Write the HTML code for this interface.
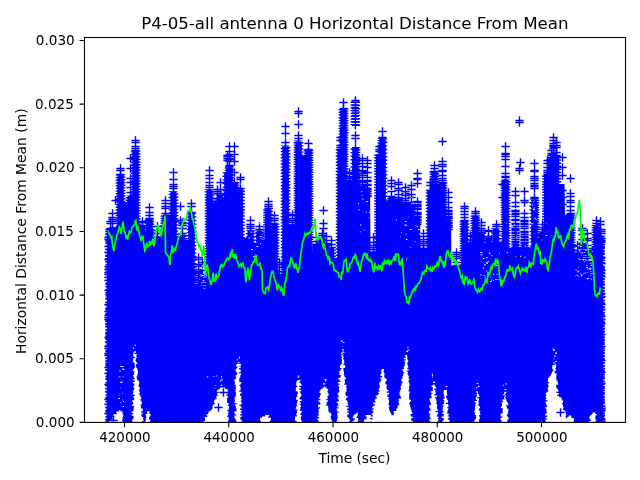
<!DOCTYPE html><html><head><meta charset="utf-8"><title>plot</title><style>html,body{margin:0;padding:0;background:#fff}</style></head><body><svg width="640" height="480" viewBox="0 0 640 480" style="display:block">
<rect width="640" height="480" fill="#fff"/>
<clipPath id="c"><rect x="84.5" y="37.5" width="541" height="384.9"/></clipPath>
<g clip-path="url(#c)" id="plot">
<path d="M108.0 424.4L108.0 235.0L108.5 235.0L109.0 235.0L109.5 227.0L110.0 227.0L110.5 227.0L111.0 227.0L111.5 227.0L112.0 227.0L112.5 227.0L113.0 227.0L113.5 227.0L114.0 227.0L114.5 227.0L115.0 227.0L115.5 227.0L116.0 227.0L116.5 227.0L117.0 227.0L117.5 227.0L118.0 177.0L118.5 177.0L119.0 177.0L119.5 177.0L120.0 177.0L120.5 177.0L121.0 177.0L121.5 177.0L122.0 177.0L122.5 177.0L123.0 177.0L123.5 202.0L124.0 202.0L124.5 202.0L125.0 202.0L125.5 202.0L126.0 202.0L126.5 202.0L127.0 202.0L127.5 202.0L128.0 198.0L128.5 198.0L129.0 198.0L129.5 198.0L130.0 198.0L130.5 198.0L131.0 198.0L131.5 198.0L132.0 198.0L132.5 198.0L133.0 154.0L133.5 154.0L134.0 154.0L134.5 154.0L135.0 154.0L135.5 154.0L136.0 154.0L136.5 154.0L137.0 154.0L137.5 154.0L138.0 154.0L138.5 235.0L139.0 235.0L139.5 235.0L140.0 235.0L140.5 235.0L141.0 235.0L141.5 235.0L142.0 235.0L142.5 235.0L143.0 235.0L143.5 235.0L144.0 235.0L144.5 235.0L145.0 235.0L145.5 235.0L146.0 235.0L146.5 235.0L147.0 221.0L147.5 221.0L148.0 221.0L148.5 221.0L149.0 221.0L149.5 221.0L150.0 221.0L150.5 221.0L151.0 221.0L151.5 221.0L152.0 221.0L152.5 240.0L153.0 240.0L153.5 240.0L154.0 240.0L154.5 240.0L155.0 240.0L155.5 240.0L156.0 240.0L156.5 240.0L157.0 240.0L157.5 240.0L158.0 240.0L158.5 240.0L159.0 240.0L159.5 240.0L160.0 240.0L160.5 240.0L161.0 240.0L161.5 240.0L162.0 240.0L162.5 240.0L163.0 214.6L163.5 214.6L164.0 214.6L164.5 214.6L165.0 214.6L165.5 214.6L166.0 214.6L166.5 214.6L167.0 214.6L167.5 214.6L168.0 214.6L168.5 214.6L169.0 214.6L169.5 214.6L170.0 214.6L170.5 214.6L171.0 194.0L171.5 194.0L172.0 194.0L172.5 194.0L173.0 194.0L173.5 194.0L174.0 194.0L174.5 194.0L175.0 194.0L175.5 194.0L176.0 194.0L176.5 236.0L177.0 236.0L177.5 236.0L178.0 236.0L178.5 236.0L179.0 236.0L179.5 236.0L180.0 236.0L180.5 236.0L181.0 236.0L181.5 236.0L182.0 236.0L182.5 236.0L183.0 236.0L183.5 236.0L184.0 236.0L184.5 236.0L185.0 240.0L185.5 240.0L186.0 240.0L186.5 240.0L187.0 240.0L187.5 240.0L188.0 240.0L188.5 240.0L189.0 216.0L189.5 216.0L190.0 216.0L190.5 216.0L191.0 216.0L191.5 216.0L192.0 216.0L192.5 216.0L193.0 216.0L193.5 216.0L194.0 216.0L194.5 284.0L195.0 284.0L195.5 284.0L196.0 284.0L196.5 284.0L197.0 284.0L197.5 284.0L198.0 284.0L198.5 284.0L199.0 284.0L199.5 284.0L200.0 284.0L200.5 284.0L201.0 289.0L201.5 289.0L202.0 289.0L202.5 289.0L203.0 289.0L203.5 289.0L204.0 289.0L204.5 289.0L205.0 289.0L205.5 289.0L206.0 289.0L206.5 289.0L207.0 192.0L207.5 192.0L208.0 192.0L208.5 192.0L209.0 192.0L209.5 192.0L210.0 192.0L210.5 192.0L211.0 192.0L211.5 192.0L212.0 192.0L212.5 203.4L213.0 203.4L213.5 203.4L214.0 203.4L214.5 203.4L215.0 203.4L215.5 203.4L216.0 203.4L216.5 203.4L217.0 203.4L217.5 203.4L218.0 197.0L218.5 197.0L219.0 197.0L219.5 197.0L220.0 197.0L220.5 197.0L221.0 197.0L221.5 197.0L222.0 197.0L222.5 197.0L223.0 197.0L223.5 197.0L224.0 197.0L224.5 197.0L225.0 175.0L225.5 175.0L226.0 175.0L226.5 175.0L227.0 170.0L227.5 170.0L228.0 170.0L228.5 170.0L229.0 170.0L229.5 170.0L230.0 170.0L230.5 170.0L231.0 170.0L231.5 170.0L232.0 170.0L232.5 184.0L233.0 184.0L233.5 184.0L234.0 184.0L234.5 184.0L235.0 184.0L235.5 184.0L236.0 184.0L236.5 184.0L237.0 184.0L237.5 192.0L238.0 192.0L238.5 192.0L239.0 192.0L239.5 192.0L240.0 192.0L240.5 192.0L241.0 192.0L241.5 192.0L242.0 192.0L242.5 192.0L243.0 238.0L243.5 238.0L244.0 238.0L244.5 238.0L245.0 238.0L245.5 238.0L246.0 238.0L246.5 238.0L247.0 238.0L247.5 238.0L248.0 234.0L248.5 234.0L249.0 234.0L249.5 234.0L250.0 234.0L250.5 234.0L251.0 234.0L251.5 234.0L252.0 234.0L252.5 234.0L253.0 234.0L253.5 244.0L254.0 244.0L254.5 244.0L255.0 244.0L255.5 244.0L256.0 244.0L256.5 244.0L257.0 240.0L257.5 240.0L258.0 240.0L258.5 240.0L259.0 240.0L259.5 240.0L260.0 240.0L260.5 240.0L261.0 240.0L261.5 240.0L262.0 240.0L262.5 240.0L263.0 240.0L263.5 240.0L264.0 240.0L264.5 240.0L265.0 240.0L265.5 215.2L266.0 215.2L266.5 215.2L267.0 215.2L267.5 215.2L268.0 215.2L268.5 215.2L269.0 215.2L269.5 215.2L270.0 215.2L270.5 215.2L271.0 229.0L271.5 229.0L272.0 229.0L272.5 229.0L273.0 229.0L273.5 229.0L274.0 229.0L274.5 229.0L275.0 229.0L275.5 229.0L276.0 229.0L276.5 229.0L277.0 229.0L277.5 276.0L278.0 276.0L278.5 276.0L279.0 276.0L279.5 276.0L280.0 276.0L280.5 276.0L281.0 276.0L281.5 276.0L282.0 276.0L282.5 276.0L283.0 148.2L283.5 148.2L284.0 148.2L284.5 148.2L285.0 148.2L285.5 148.2L286.0 148.2L286.5 148.2L287.0 148.2L287.5 148.2L288.0 148.2L288.5 228.0L289.0 228.0L289.5 228.0L290.0 228.0L290.5 228.0L291.0 228.0L291.5 228.0L292.0 228.0L292.5 228.0L293.0 228.0L293.5 228.0L294.0 228.0L294.5 228.0L295.0 228.0L295.5 228.0L296.0 143.2L296.5 143.2L297.0 143.2L297.5 143.2L298.0 143.2L298.5 143.2L299.0 143.2L299.5 143.2L300.0 143.2L300.5 143.2L301.0 143.2L301.5 156.0L302.0 156.0L302.5 156.0L303.0 156.0L303.5 156.0L304.0 156.0L304.5 156.0L305.0 156.0L305.5 156.0L306.0 152.0L306.5 152.0L307.0 152.0L307.5 152.0L308.0 152.0L308.5 152.0L309.0 152.0L309.5 152.0L310.0 152.0L310.5 152.0L311.0 152.0L311.5 251.0L312.0 251.0L312.5 251.0L313.0 251.0L313.5 251.0L314.0 251.0L314.5 251.0L315.0 251.0L315.5 251.0L316.0 251.0L316.5 251.0L317.0 251.0L317.5 251.0L318.0 251.0L318.5 251.0L319.0 251.0L319.5 247.0L320.0 247.0L320.5 247.0L321.0 247.0L321.5 247.0L322.0 247.0L322.5 247.0L323.0 247.0L323.5 247.0L324.0 247.0L324.5 247.0L325.0 250.0L325.5 250.0L326.0 250.0L326.5 250.0L327.0 250.0L327.5 250.0L328.0 250.0L328.5 250.0L329.0 254.0L329.5 254.0L330.0 254.0L330.5 254.0L331.0 254.0L331.5 254.0L332.0 254.0L332.5 254.0L333.0 254.0L333.5 254.0L334.0 258.0L334.5 258.0L335.0 258.0L335.5 258.0L336.0 258.0L336.5 258.0L337.0 258.0L337.5 258.0L338.0 151.5L338.5 151.5L339.0 151.5L339.5 151.5L340.0 151.5L340.5 151.5L341.0 110.0L341.5 110.0L342.0 110.0L342.5 110.0L343.0 110.0L343.5 110.0L344.0 110.0L344.5 110.0L345.0 110.0L345.5 110.0L346.0 110.0L346.5 186.0L347.0 186.0L347.5 186.0L348.0 186.0L348.5 186.0L349.0 186.0L349.5 186.0L350.0 186.0L350.5 186.0L351.0 186.0L351.5 186.0L352.0 186.0L352.5 186.0L353.0 149.0L353.5 149.0L354.0 149.0L354.5 149.0L355.0 149.0L355.5 149.0L356.0 149.0L356.5 149.0L357.0 149.0L357.5 149.0L358.0 149.0L358.5 185.8L359.0 185.8L359.5 185.8L360.0 185.8L360.5 185.8L361.0 185.8L361.5 185.8L362.0 185.8L362.5 185.8L363.0 185.8L363.5 185.8L364.0 185.8L364.5 185.8L365.0 185.8L365.5 187.6L366.0 187.6L366.5 187.6L367.0 187.6L367.5 187.6L368.0 187.6L368.5 187.6L369.0 187.6L369.5 187.6L370.0 187.6L370.5 251.5L371.0 251.5L371.5 251.5L372.0 251.5L372.5 251.5L373.0 251.5L373.5 251.5L374.0 251.5L374.5 251.5L375.0 251.5L375.5 251.5L376.0 251.5L376.5 160.2L377.0 160.2L377.5 160.2L378.0 160.2L378.5 160.2L379.0 160.2L379.5 160.2L380.0 141.0L380.5 141.0L381.0 141.0L381.5 141.0L382.0 141.0L382.5 141.0L383.0 141.0L383.5 141.0L384.0 141.0L384.5 141.0L385.0 141.0L385.5 200.6L386.0 200.6L386.5 200.6L387.0 200.6L387.5 200.6L388.0 200.6L388.5 200.6L389.0 196.6L389.5 196.6L390.0 196.6L390.5 196.6L391.0 196.6L391.5 196.6L392.0 196.6L392.5 196.6L393.0 196.6L393.5 196.6L394.0 196.6L394.5 198.5L395.0 198.5L395.5 198.5L396.0 198.5L396.5 198.5L397.0 198.5L397.5 198.5L398.0 198.5L398.5 198.5L399.0 198.5L399.5 198.5L400.0 198.5L400.5 198.5L401.0 198.5L401.5 203.5L402.0 203.5L402.5 203.5L403.0 203.5L403.5 203.5L404.0 203.5L404.5 203.5L405.0 203.5L405.5 203.5L406.0 203.5L406.5 203.5L407.0 203.5L407.5 203.5L408.0 203.5L408.5 203.5L409.0 201.6L409.5 201.6L410.0 201.6L410.5 201.6L411.0 201.6L411.5 201.6L412.0 201.6L412.5 201.6L413.0 201.6L413.5 201.6L414.0 201.6L414.5 215.8L415.0 215.8L415.5 215.8L416.0 215.8L416.5 215.8L417.0 215.8L417.5 215.8L418.0 215.8L418.5 215.8L419.0 215.8L419.5 215.8L420.0 215.8L420.5 247.8L421.0 247.8L421.5 247.8L422.0 247.8L422.5 247.8L423.0 247.8L423.5 247.8L424.0 247.8L424.5 247.8L425.0 247.8L425.5 247.8L426.0 247.8L426.5 247.8L427.0 247.8L427.5 247.8L428.0 196.5L428.5 196.5L429.0 196.5L429.5 196.5L430.0 196.5L430.5 196.5L431.0 196.5L431.5 196.5L432.0 174.0L432.5 174.0L433.0 174.0L433.5 174.0L434.0 174.0L434.5 174.0L435.0 174.0L435.5 174.0L436.0 174.0L436.5 174.0L437.0 174.0L437.5 184.0L438.0 184.0L438.5 184.0L439.0 184.0L439.5 184.0L440.0 184.0L440.5 184.0L441.0 184.0L441.5 184.0L442.0 184.0L442.5 184.0L443.0 184.0L443.5 184.0L444.0 184.0L444.5 184.0L445.0 184.0L445.5 219.5L446.0 219.5L446.5 219.5L447.0 219.5L447.5 219.5L448.0 219.5L448.5 219.5L449.0 219.5L449.5 219.5L450.0 219.5L450.5 219.5L451.0 219.5L451.5 266.0L452.0 266.0L452.5 266.0L453.0 266.0L453.5 266.0L454.0 266.0L454.5 266.0L455.0 266.0L455.5 266.0L456.0 266.0L456.5 266.0L457.0 266.0L457.5 266.0L458.0 266.0L458.5 266.0L459.0 266.0L459.5 266.0L460.0 266.0L460.5 266.0L461.0 266.0L461.5 266.0L462.0 220.2L462.5 220.2L463.0 220.2L463.5 220.2L464.0 220.2L464.5 220.2L465.0 220.2L465.5 220.2L466.0 220.2L466.5 220.2L467.0 220.2L467.5 249.0L468.0 249.0L468.5 249.0L469.0 249.0L469.5 249.0L470.0 249.0L470.5 249.0L471.0 249.0L471.5 249.0L472.0 249.0L472.5 249.0L473.0 225.2L473.5 225.2L474.0 225.2L474.5 225.2L475.0 225.2L475.5 225.2L476.0 225.2L476.5 225.2L477.0 225.2L477.5 225.2L478.0 225.2L478.5 236.5L479.0 236.5L479.5 236.5L480.0 236.5L480.5 236.5L481.0 236.5L481.5 236.5L482.0 236.5L482.5 236.5L483.0 236.5L483.5 236.5L484.0 244.0L484.5 244.0L485.0 244.0L485.5 244.0L486.0 244.0L486.5 244.0L487.0 244.0L487.5 244.0L488.0 244.0L488.5 244.0L489.0 244.0L489.5 244.0L490.0 244.0L490.5 244.0L491.0 244.0L491.5 244.0L492.0 244.0L492.5 244.0L493.0 244.0L493.5 238.0L494.0 238.0L494.5 238.0L495.0 238.0L495.5 238.0L496.0 238.0L496.5 238.0L497.0 238.0L497.5 238.0L498.0 238.0L498.5 238.0L499.0 242.0L499.5 242.0L500.0 242.0L500.5 242.0L501.0 242.0L501.5 242.0L502.0 242.0L502.5 242.0L503.0 182.0L503.5 182.0L504.0 182.0L504.5 182.0L505.0 182.0L505.5 182.0L506.0 182.0L506.5 182.0L507.0 182.0L507.5 182.0L508.0 182.0L508.5 247.2L509.0 247.2L509.5 247.2L510.0 247.2L510.5 247.2L511.0 247.2L511.5 247.2L512.0 247.2L512.5 247.2L513.0 243.2L513.5 243.2L514.0 243.2L514.5 243.2L515.0 243.2L515.5 243.2L516.0 243.2L516.5 243.2L517.0 243.2L517.5 243.2L518.0 243.2L518.5 247.2L519.0 247.2L519.5 247.2L520.0 247.2L520.5 247.2L521.0 247.2L521.5 247.2L522.0 243.2L522.5 243.2L523.0 243.2L523.5 243.2L524.0 243.2L524.5 243.2L525.0 243.2L525.5 243.2L526.0 243.2L526.5 243.2L527.0 243.2L527.5 247.2L528.0 247.2L528.5 247.2L529.0 247.2L529.5 247.2L530.0 247.2L530.5 247.2L531.0 247.2L531.5 247.2L532.0 202.0L532.5 202.0L533.0 202.0L533.5 202.0L534.0 202.0L534.5 202.0L535.0 202.0L535.5 202.0L536.0 202.0L536.5 202.0L537.0 202.0L537.5 238.0L538.0 238.0L538.5 238.0L539.0 238.0L539.5 238.0L540.0 238.0L540.5 238.0L541.0 238.0L541.5 238.0L542.0 238.0L542.5 238.0L543.0 238.0L543.5 238.0L544.0 238.0L544.5 174.0L545.0 174.0L545.5 174.0L546.0 174.0L546.5 174.0L547.0 174.0L547.5 174.0L548.0 174.0L548.5 174.0L549.0 164.0L549.5 164.0L550.0 164.0L550.5 164.0L551.0 157.0L551.5 157.0L552.0 157.0L552.5 157.0L553.0 157.0L553.5 157.0L554.0 156.0L554.5 156.0L555.0 156.0L555.5 156.0L556.0 156.0L556.5 156.0L557.0 156.0L557.5 156.0L558.0 156.0L558.5 156.0L559.0 184.0L559.5 184.0L560.0 184.0L560.5 184.0L561.0 184.0L561.5 184.0L562.0 184.0L562.5 184.0L563.0 184.0L563.5 184.0L564.0 184.0L564.5 184.0L565.0 215.0L565.5 215.0L566.0 215.0L566.5 215.0L567.0 215.0L567.5 215.0L568.0 215.0L568.5 215.0L569.0 215.0L569.5 215.0L570.0 215.0L570.5 215.0L571.0 215.0L571.5 215.0L572.0 215.0L572.5 215.0L573.0 215.0L573.5 259.0L574.0 259.0L574.5 259.0L575.0 259.0L575.5 259.0L576.0 259.0L576.5 259.0L577.0 259.0L577.5 259.0L578.0 259.0L578.5 259.0L579.0 259.0L579.5 259.0L580.0 255.8L580.5 255.8L581.0 255.8L581.5 255.8L582.0 255.8L582.5 255.8L583.0 255.8L583.5 255.8L584.0 255.8L584.5 255.8L585.0 255.8L585.5 260.8L586.0 260.8L586.5 260.8L587.0 260.8L587.5 260.8L588.0 260.8L588.5 260.8L589.0 260.8L589.5 260.8L590.0 277.0L590.5 277.0L591.0 277.0L591.5 277.0L592.0 277.0L592.5 277.0L593.0 277.0L593.5 277.0L594.0 234.6L594.5 234.6L595.0 234.6L595.5 234.6L596.0 234.6L596.5 234.6L597.0 234.6L597.5 234.6L598.0 234.6L598.5 234.6L599.0 234.6L599.5 235.5L600.0 235.5L600.5 235.5L601.0 235.5L601.5 235.5L602.0 235.5L602.5 235.5L602.5 424.4Z" fill="#00f"/>
<path d="M109.5 231.3V424.4" stroke="#00f" stroke-width="8.3" stroke-dasharray="1.4 1.70" stroke-dashoffset="1.2" fill="none"/>
<path d="M110.9 231.3V424.4" stroke="#00f" stroke-width="8.3" stroke-dasharray="1.4 1.30" stroke-dashoffset="0.1" fill="none"/>
<path d="M111.3 227.3V424.4" stroke="#00f" stroke-width="8.3" stroke-dasharray="1.4 1.00" stroke-dashoffset="1.7" fill="none"/>
<path d="M112.7 227.3V424.4" stroke="#00f" stroke-width="8.3" stroke-dasharray="1.4 1.00" stroke-dashoffset="1.9" fill="none"/>
<path d="M119.9 174.3V424.4" stroke="#00f" stroke-width="8.3" stroke-dasharray="1.4 1.30" stroke-dashoffset="0.1" fill="none"/>
<path d="M121.3 174.3V424.4" stroke="#00f" stroke-width="8.3" stroke-dasharray="1.4 1.30" stroke-dashoffset="0.6" fill="none"/>
<path d="M129.9 195.3V424.4" stroke="#00f" stroke-width="8.3" stroke-dasharray="1.4 1.30" stroke-dashoffset="1.1" fill="none"/>
<path d="M131.3 195.3V424.4" stroke="#00f" stroke-width="8.3" stroke-dasharray="1.4 1.70" stroke-dashoffset="1.1" fill="none"/>
<path d="M134.9 151.3V424.4" stroke="#00f" stroke-width="8.3" stroke-dasharray="1.4 1.30" stroke-dashoffset="0.2" fill="none"/>
<path d="M136.3 151.3V424.4" stroke="#00f" stroke-width="8.3" stroke-dasharray="1.4 1.30" stroke-dashoffset="0.7" fill="none"/>
<path d="M141.8 225.3V424.4" stroke="#00f" stroke-width="8.3" stroke-dasharray="1.4 2.20" stroke-dashoffset="1.6" fill="none"/>
<path d="M143.2 225.3V424.4" stroke="#00f" stroke-width="8.3" stroke-dasharray="1.4 2.20" stroke-dashoffset="1.2" fill="none"/>
<path d="M148.7 218.3V424.4" stroke="#00f" stroke-width="8.3" stroke-dasharray="1.4 1.30" stroke-dashoffset="1.4" fill="none"/>
<path d="M150.1 218.3V424.4" stroke="#00f" stroke-width="8.3" stroke-dasharray="1.4 1.30" stroke-dashoffset="0.2" fill="none"/>
<path d="M156.8 236.3V424.4" stroke="#00f" stroke-width="8.3" stroke-dasharray="1.4 1.70" stroke-dashoffset="1.2" fill="none"/>
<path d="M158.2 236.3V424.4" stroke="#00f" stroke-width="8.3" stroke-dasharray="1.4 1.00" stroke-dashoffset="0.2" fill="none"/>
<path d="M164.7 214.9V424.4" stroke="#00f" stroke-width="8.3" stroke-dasharray="1.4 1.00" stroke-dashoffset="1.9" fill="none"/>
<path d="M166.1 214.9V424.4" stroke="#00f" stroke-width="8.3" stroke-dasharray="1.4 1.00" stroke-dashoffset="1.5" fill="none"/>
<path d="M172.8 191.3V424.4" stroke="#00f" stroke-width="8.3" stroke-dasharray="1.4 1.70" stroke-dashoffset="0.7" fill="none"/>
<path d="M174.2 191.3V424.4" stroke="#00f" stroke-width="8.3" stroke-dasharray="1.4 1.70" stroke-dashoffset="1.2" fill="none"/>
<path d="M181.3 236.3V424.4" stroke="#00f" stroke-width="8.3" stroke-dasharray="1.4 2.20" stroke-dashoffset="0.6" fill="none"/>
<path d="M182.7 236.3V424.4" stroke="#00f" stroke-width="8.3" stroke-dasharray="1.4 2.20" stroke-dashoffset="1.8" fill="none"/>
<path d="M190.8 213.3V424.4" stroke="#00f" stroke-width="8.3" stroke-dasharray="1.4 1.70" stroke-dashoffset="0.0" fill="none"/>
<path d="M192.2 213.3V424.4" stroke="#00f" stroke-width="8.3" stroke-dasharray="1.4 2.20" stroke-dashoffset="0.7" fill="none"/>
<path d="M208.9 189.3V424.4" stroke="#00f" stroke-width="8.3" stroke-dasharray="1.4 1.30" stroke-dashoffset="0.8" fill="none"/>
<path d="M210.3 189.3V424.4" stroke="#00f" stroke-width="8.3" stroke-dasharray="1.4 1.70" stroke-dashoffset="1.2" fill="none"/>
<path d="M216.4 199.7V424.4" stroke="#00f" stroke-width="8.3" stroke-dasharray="1.4 2.20" stroke-dashoffset="0.8" fill="none"/>
<path d="M217.8 199.7V424.4" stroke="#00f" stroke-width="8.3" stroke-dasharray="1.4 1.00" stroke-dashoffset="1.0" fill="none"/>
<path d="M219.6 194.3V424.4" stroke="#00f" stroke-width="8.3" stroke-dasharray="1.4 2.20" stroke-dashoffset="0.1" fill="none"/>
<path d="M220.9 194.3V424.4" stroke="#00f" stroke-width="8.3" stroke-dasharray="1.4 1.00" stroke-dashoffset="2.0" fill="none"/>
<path d="M226.8 172.3V424.4" stroke="#00f" stroke-width="8.3" stroke-dasharray="1.4 2.20" stroke-dashoffset="0.3" fill="none"/>
<path d="M228.2 172.3V424.4" stroke="#00f" stroke-width="8.3" stroke-dasharray="1.4 1.70" stroke-dashoffset="1.2" fill="none"/>
<path d="M228.9 167.3V424.4" stroke="#00f" stroke-width="8.3" stroke-dasharray="1.4 1.00" stroke-dashoffset="0.0" fill="none"/>
<path d="M230.3 167.3V424.4" stroke="#00f" stroke-width="8.3" stroke-dasharray="1.4 1.30" stroke-dashoffset="1.1" fill="none"/>
<path d="M233.9 181.3V424.4" stroke="#00f" stroke-width="8.3" stroke-dasharray="1.4 1.70" stroke-dashoffset="1.2" fill="none"/>
<path d="M235.3 181.3V424.4" stroke="#00f" stroke-width="8.3" stroke-dasharray="1.4 1.00" stroke-dashoffset="1.7" fill="none"/>
<path d="M239.3 189.3V424.4" stroke="#00f" stroke-width="8.3" stroke-dasharray="1.4 2.20" stroke-dashoffset="0.3" fill="none"/>
<path d="M240.7 189.3V424.4" stroke="#00f" stroke-width="8.3" stroke-dasharray="1.4 1.70" stroke-dashoffset="1.9" fill="none"/>
<path d="M249.9 230.3V424.4" stroke="#00f" stroke-width="8.3" stroke-dasharray="1.4 2.20" stroke-dashoffset="1.0" fill="none"/>
<path d="M251.3 230.3V424.4" stroke="#00f" stroke-width="8.3" stroke-dasharray="1.4 1.70" stroke-dashoffset="0.2" fill="none"/>
<path d="M258.8 230.3V424.4" stroke="#00f" stroke-width="8.3" stroke-dasharray="1.4 2.20" stroke-dashoffset="1.7" fill="none"/>
<path d="M260.2 230.3V424.4" stroke="#00f" stroke-width="8.3" stroke-dasharray="1.4 1.30" stroke-dashoffset="1.0" fill="none"/>
<path d="M267.4 208.6V424.4" stroke="#00f" stroke-width="8.3" stroke-dasharray="1.4 1.00" stroke-dashoffset="1.4" fill="none"/>
<path d="M268.8 208.6V424.4" stroke="#00f" stroke-width="8.3" stroke-dasharray="1.4 1.70" stroke-dashoffset="1.0" fill="none"/>
<path d="M273.8 222.3V424.4" stroke="#00f" stroke-width="8.3" stroke-dasharray="1.4 1.30" stroke-dashoffset="1.2" fill="none"/>
<path d="M275.2 222.3V424.4" stroke="#00f" stroke-width="8.3" stroke-dasharray="1.4 1.30" stroke-dashoffset="1.6" fill="none"/>
<path d="M278.8 276.3V424.4" stroke="#00f" stroke-width="8.3" stroke-dasharray="1.4 1.70" stroke-dashoffset="0.9" fill="none"/>
<path d="M280.2 276.3V424.4" stroke="#00f" stroke-width="8.3" stroke-dasharray="1.4 1.30" stroke-dashoffset="1.4" fill="none"/>
<path d="M284.9 145.6V424.4" stroke="#00f" stroke-width="8.3" stroke-dasharray="1.4 1.70" stroke-dashoffset="0.9" fill="none"/>
<path d="M286.3 145.6V424.4" stroke="#00f" stroke-width="8.3" stroke-dasharray="1.4 1.70" stroke-dashoffset="1.9" fill="none"/>
<path d="M291.3 224.3V424.4" stroke="#00f" stroke-width="8.3" stroke-dasharray="1.4 1.30" stroke-dashoffset="0.7" fill="none"/>
<path d="M292.7 224.3V424.4" stroke="#00f" stroke-width="8.3" stroke-dasharray="1.4 2.20" stroke-dashoffset="1.2" fill="none"/>
<path d="M297.8 140.6V424.4" stroke="#00f" stroke-width="8.3" stroke-dasharray="1.4 1.00" stroke-dashoffset="1.0" fill="none"/>
<path d="M299.2 140.6V424.4" stroke="#00f" stroke-width="8.3" stroke-dasharray="1.4 1.70" stroke-dashoffset="1.6" fill="none"/>
<path d="M307.8 149.3V424.4" stroke="#00f" stroke-width="8.3" stroke-dasharray="1.4 1.00" stroke-dashoffset="1.7" fill="none"/>
<path d="M309.2 149.3V424.4" stroke="#00f" stroke-width="8.3" stroke-dasharray="1.4 1.00" stroke-dashoffset="1.8" fill="none"/>
<path d="M315.3 244.3V424.4" stroke="#00f" stroke-width="8.3" stroke-dasharray="1.4 1.70" stroke-dashoffset="0.2" fill="none"/>
<path d="M316.7 244.3V424.4" stroke="#00f" stroke-width="8.3" stroke-dasharray="1.4 2.20" stroke-dashoffset="0.9" fill="none"/>
<path d="M321.3 237.3V424.4" stroke="#00f" stroke-width="8.3" stroke-dasharray="1.4 1.30" stroke-dashoffset="0.1" fill="none"/>
<path d="M322.7 237.3V424.4" stroke="#00f" stroke-width="8.3" stroke-dasharray="1.4 2.20" stroke-dashoffset="1.6" fill="none"/>
<path d="M325.3 243.3V424.4" stroke="#00f" stroke-width="8.3" stroke-dasharray="1.4 1.30" stroke-dashoffset="0.0" fill="none"/>
<path d="M326.7 243.3V424.4" stroke="#00f" stroke-width="8.3" stroke-dasharray="1.4 1.00" stroke-dashoffset="1.1" fill="none"/>
<path d="M330.3 247.3V424.4" stroke="#00f" stroke-width="8.3" stroke-dasharray="1.4 1.00" stroke-dashoffset="0.5" fill="none"/>
<path d="M331.7 247.3V424.4" stroke="#00f" stroke-width="8.3" stroke-dasharray="1.4 1.70" stroke-dashoffset="1.0" fill="none"/>
<path d="M339.9 147.8V424.4" stroke="#00f" stroke-width="8.3" stroke-dasharray="1.4 1.70" stroke-dashoffset="1.8" fill="none"/>
<path d="M341.3 147.8V424.4" stroke="#00f" stroke-width="8.3" stroke-dasharray="1.4 2.20" stroke-dashoffset="1.7" fill="none"/>
<path d="M342.8 107.3V424.4" stroke="#00f" stroke-width="8.3" stroke-dasharray="1.4 1.30" stroke-dashoffset="1.1" fill="none"/>
<path d="M344.2 107.3V424.4" stroke="#00f" stroke-width="8.3" stroke-dasharray="1.4 1.00" stroke-dashoffset="1.7" fill="none"/>
<path d="M348.8 179.3V424.4" stroke="#00f" stroke-width="8.3" stroke-dasharray="1.4 2.20" stroke-dashoffset="1.2" fill="none"/>
<path d="M350.2 179.3V424.4" stroke="#00f" stroke-width="8.3" stroke-dasharray="1.4 1.00" stroke-dashoffset="1.1" fill="none"/>
<path d="M354.8 101.5V126.5" stroke="#00f" stroke-width="8.3" stroke-dasharray="1.4 1.40" fill="none"/>
<path d="M356.0 101.5V126.5" stroke="#00f" stroke-width="8.3" stroke-dasharray="1.4 1.90" fill="none"/>
<path d="M354.7 146.3V424.4" stroke="#00f" stroke-width="8.3" stroke-dasharray="1.4 2.20" stroke-dashoffset="1.6" fill="none"/>
<path d="M356.1 146.3V424.4" stroke="#00f" stroke-width="8.3" stroke-dasharray="1.4 1.00" stroke-dashoffset="1.8" fill="none"/>
<path d="M372.8 251.8V424.4" stroke="#00f" stroke-width="8.3" stroke-dasharray="1.4 1.00" stroke-dashoffset="0.4" fill="none"/>
<path d="M374.2 251.8V424.4" stroke="#00f" stroke-width="8.3" stroke-dasharray="1.4 1.70" stroke-dashoffset="1.6" fill="none"/>
<path d="M378.3 153.6V424.4" stroke="#00f" stroke-width="8.3" stroke-dasharray="1.4 1.30" stroke-dashoffset="1.9" fill="none"/>
<path d="M379.7 153.6V424.4" stroke="#00f" stroke-width="8.3" stroke-dasharray="1.4 1.30" stroke-dashoffset="1.5" fill="none"/>
<path d="M381.8 138.3V424.4" stroke="#00f" stroke-width="8.3" stroke-dasharray="1.4 1.00" stroke-dashoffset="0.8" fill="none"/>
<path d="M383.2 138.3V424.4" stroke="#00f" stroke-width="8.3" stroke-dasharray="1.4 2.20" stroke-dashoffset="0.3" fill="none"/>
<path d="M423.1 248.1V424.4" stroke="#00f" stroke-width="8.3" stroke-dasharray="1.4 1.00" stroke-dashoffset="0.4" fill="none"/>
<path d="M424.4 248.1V424.4" stroke="#00f" stroke-width="8.3" stroke-dasharray="1.4 1.70" stroke-dashoffset="1.3" fill="none"/>
<path d="M429.9 189.8V424.4" stroke="#00f" stroke-width="8.3" stroke-dasharray="1.4 1.70" stroke-dashoffset="0.7" fill="none"/>
<path d="M431.3 189.8V424.4" stroke="#00f" stroke-width="8.3" stroke-dasharray="1.4 1.00" stroke-dashoffset="2.0" fill="none"/>
<path d="M433.7 171.3V424.4" stroke="#00f" stroke-width="8.3" stroke-dasharray="1.4 1.00" stroke-dashoffset="0.0" fill="none"/>
<path d="M435.1 171.3V424.4" stroke="#00f" stroke-width="8.3" stroke-dasharray="1.4 1.30" stroke-dashoffset="1.0" fill="none"/>
<path d="M441.8 181.3V424.4" stroke="#00f" stroke-width="8.3" stroke-dasharray="1.4 1.30" stroke-dashoffset="1.9" fill="none"/>
<path d="M443.2 181.3V424.4" stroke="#00f" stroke-width="8.3" stroke-dasharray="1.4 1.00" stroke-dashoffset="1.3" fill="none"/>
<path d="M455.8 266.3V424.4" stroke="#00f" stroke-width="8.3" stroke-dasharray="1.4 1.70" stroke-dashoffset="0.1" fill="none"/>
<path d="M457.2 266.3V424.4" stroke="#00f" stroke-width="8.3" stroke-dasharray="1.4 1.30" stroke-dashoffset="0.3" fill="none"/>
<path d="M463.9 220.6V424.4" stroke="#00f" stroke-width="8.3" stroke-dasharray="1.4 1.00" stroke-dashoffset="1.9" fill="none"/>
<path d="M465.3 220.6V424.4" stroke="#00f" stroke-width="8.3" stroke-dasharray="1.4 1.70" stroke-dashoffset="0.4" fill="none"/>
<path d="M469.3 242.3V424.4" stroke="#00f" stroke-width="8.3" stroke-dasharray="1.4 1.00" stroke-dashoffset="0.9" fill="none"/>
<path d="M470.7 242.3V424.4" stroke="#00f" stroke-width="8.3" stroke-dasharray="1.4 1.30" stroke-dashoffset="0.5" fill="none"/>
<path d="M474.7 215.6V424.4" stroke="#00f" stroke-width="8.3" stroke-dasharray="1.4 1.00" stroke-dashoffset="0.3" fill="none"/>
<path d="M476.1 215.6V424.4" stroke="#00f" stroke-width="8.3" stroke-dasharray="1.4 1.00" stroke-dashoffset="0.8" fill="none"/>
<path d="M480.6 232.8V424.4" stroke="#00f" stroke-width="8.3" stroke-dasharray="1.4 1.70" stroke-dashoffset="1.4" fill="none"/>
<path d="M481.9 232.8V424.4" stroke="#00f" stroke-width="8.3" stroke-dasharray="1.4 2.20" stroke-dashoffset="0.3" fill="none"/>
<path d="M487.8 237.3V424.4" stroke="#00f" stroke-width="8.3" stroke-dasharray="1.4 1.00" stroke-dashoffset="1.7" fill="none"/>
<path d="M489.2 237.3V424.4" stroke="#00f" stroke-width="8.3" stroke-dasharray="1.4 1.30" stroke-dashoffset="0.2" fill="none"/>
<path d="M495.3 228.3V424.4" stroke="#00f" stroke-width="8.3" stroke-dasharray="1.4 1.00" stroke-dashoffset="0.8" fill="none"/>
<path d="M496.7 228.3V424.4" stroke="#00f" stroke-width="8.3" stroke-dasharray="1.4 2.20" stroke-dashoffset="1.1" fill="none"/>
<path d="M504.9 179.3V424.4" stroke="#00f" stroke-width="8.3" stroke-dasharray="1.4 1.00" stroke-dashoffset="1.3" fill="none"/>
<path d="M506.3 179.3V424.4" stroke="#00f" stroke-width="8.3" stroke-dasharray="1.4 1.30" stroke-dashoffset="1.0" fill="none"/>
<path d="M533.7 199.3V424.4" stroke="#00f" stroke-width="8.3" stroke-dasharray="1.4 2.20" stroke-dashoffset="0.9" fill="none"/>
<path d="M535.1 199.3V424.4" stroke="#00f" stroke-width="8.3" stroke-dasharray="1.4 1.00" stroke-dashoffset="2.0" fill="none"/>
<path d="M541.3 231.3V424.4" stroke="#00f" stroke-width="8.3" stroke-dasharray="1.4 1.00" stroke-dashoffset="0.6" fill="none"/>
<path d="M542.7 231.3V424.4" stroke="#00f" stroke-width="8.3" stroke-dasharray="1.4 1.00" stroke-dashoffset="1.6" fill="none"/>
<path d="M546.3 174.3V424.4" stroke="#00f" stroke-width="8.3" stroke-dasharray="1.4 1.30" stroke-dashoffset="1.5" fill="none"/>
<path d="M547.7 174.3V424.4" stroke="#00f" stroke-width="8.3" stroke-dasharray="1.4 1.70" stroke-dashoffset="1.9" fill="none"/>
<path d="M550.5 157.3V424.4" stroke="#00f" stroke-width="8.3" stroke-dasharray="1.4 1.30" stroke-dashoffset="1.0" fill="none"/>
<path d="M552.0 157.3V424.4" stroke="#00f" stroke-width="8.3" stroke-dasharray="1.4 2.20" stroke-dashoffset="0.8" fill="none"/>
<path d="M552.8 154.3V424.4" stroke="#00f" stroke-width="8.3" stroke-dasharray="1.4 1.30" stroke-dashoffset="0.0" fill="none"/>
<path d="M554.2 154.3V424.4" stroke="#00f" stroke-width="8.3" stroke-dasharray="1.4 2.20" stroke-dashoffset="1.4" fill="none"/>
<path d="M555.5 156.3V424.4" stroke="#00f" stroke-width="8.3" stroke-dasharray="1.4 1.70" stroke-dashoffset="0.2" fill="none"/>
<path d="M557.0 156.3V424.4" stroke="#00f" stroke-width="8.3" stroke-dasharray="1.4 1.70" stroke-dashoffset="0.0" fill="none"/>
<path d="M569.9 212.3V424.4" stroke="#00f" stroke-width="8.3" stroke-dasharray="1.4 1.70" stroke-dashoffset="1.7" fill="none"/>
<path d="M571.3 212.3V424.4" stroke="#00f" stroke-width="8.3" stroke-dasharray="1.4 1.00" stroke-dashoffset="1.9" fill="none"/>
<path d="M576.8 252.3V424.4" stroke="#00f" stroke-width="8.3" stroke-dasharray="1.4 1.70" stroke-dashoffset="0.1" fill="none"/>
<path d="M578.2 252.3V424.4" stroke="#00f" stroke-width="8.3" stroke-dasharray="1.4 2.20" stroke-dashoffset="2.0" fill="none"/>
<path d="M595.8 224.9V424.4" stroke="#00f" stroke-width="8.3" stroke-dasharray="1.4 1.00" stroke-dashoffset="0.4" fill="none"/>
<path d="M597.2 224.9V424.4" stroke="#00f" stroke-width="8.3" stroke-dasharray="1.4 2.20" stroke-dashoffset="1.1" fill="none"/>
<path d="M599.3 235.8V424.4" stroke="#00f" stroke-width="8.3" stroke-dasharray="1.4 1.30" stroke-dashoffset="0.2" fill="none"/>
<path d="M600.7 235.8V424.4" stroke="#00f" stroke-width="8.3" stroke-dasharray="1.4 1.70" stroke-dashoffset="1.1" fill="none"/>
<path d="M110.5 227.8V424.4M112.5 223.8V424.4M120.5 170.8V424.4M130.5 191.8V424.4M135.5 147.8V424.4M142.5 221.8V424.4M149.5 214.8V424.4M157.5 232.8V424.4M165.5 211.4V424.4M173.5 187.8V424.4M182.5 232.8V424.4M191.5 209.8V424.4M209.5 185.8V424.4M217.5 196.2V424.4M220.5 190.8V424.4M227.5 168.8V424.4M229.5 163.8V424.4M234.5 177.8V424.4M240.5 185.8V424.4M250.5 226.8V424.4M259.5 226.8V424.4M268.5 205.1V424.4M274.5 218.8V424.4M279.5 272.9V424.4M285.5 142.1V424.4M292.5 220.8V424.4M298.5 137.1V424.4M308.5 145.8V424.4M316.5 240.8V424.4M322.5 233.8V424.4M326.5 239.8V424.4M331.5 243.8V424.4M340.5 144.3V424.4M343.5 103.8V424.4M349.5 175.8V424.4M355.4 98.5V129.5M355.5 142.8V424.4M373.5 248.3V424.4M379.5 150.1V424.4M382.5 134.8V424.4M423.5 244.6V424.4M430.5 186.3V424.4M434.5 167.8V424.4M442.5 177.8V424.4M456.5 262.9V424.4M464.5 217.1V424.4M470.5 238.8V424.4M475.5 212.1V424.4M481.5 229.3V424.4M488.5 233.8V424.4M496.5 224.8V424.4M505.5 175.8V424.4M534.5 195.8V424.4M542.5 227.8V424.4M547.5 170.8V424.4M551.5 153.8V424.4M553.5 150.8V424.4M556.5 152.8V424.4M570.5 208.8V424.4M577.5 248.8V424.4M596.5 221.4V424.4M600.5 232.3V424.4" stroke="#00f" stroke-width="1.39" fill="none"/>
<path d="M110.2 232.0V424.4M112.0 228.0V424.4M120.6 175.0V424.4M130.6 196.0V424.4M135.6 152.0V424.4M142.5 226.0V424.4M149.4 219.0V424.4M157.5 237.0V424.4M165.4 215.6V424.4M173.5 192.0V424.4M182.0 237.0V424.4M191.5 214.0V424.4M209.6 190.0V424.4M217.1 200.4V424.4M220.2 195.0V424.4M227.5 173.0V424.4M229.6 168.0V424.4M234.6 182.0V424.4M240.0 190.0V424.4M250.6 231.0V424.4M259.5 231.0V424.4M268.1 209.2V424.4M274.5 223.0V424.4M279.5 277.0V424.4M285.6 146.2V424.4M292.0 225.0V424.4M298.5 141.2V424.4M308.5 150.0V424.4M316.0 245.0V424.4M322.0 238.0V424.4M326.0 244.0V424.4M331.0 248.0V424.4M340.6 148.5V424.4M343.5 108.0V424.4M349.5 180.0V424.4M355.4 147.0V424.4M373.5 252.5V424.4M379.0 154.2V424.4M382.5 139.0V424.4M423.8 248.8V424.4M430.6 190.5V424.4M434.4 172.0V424.4M442.5 182.0V424.4M456.5 267.0V424.4M464.6 221.2V424.4M470.0 243.0V424.4M475.4 216.2V424.4M481.2 233.5V424.4M488.5 238.0V424.4M496.0 229.0V424.4M505.6 180.0V424.4M534.4 200.0V424.4M542.0 232.0V424.4M547.0 175.0V424.4M551.2 158.0V424.4M553.5 155.0V424.4M556.2 157.0V424.4M570.6 213.0V424.4M577.5 253.0V424.4M596.5 225.6V424.4M600.0 236.5V424.4" stroke="#00f" stroke-width="6.0" fill="none"/>
<path d="M106.35 221.5h8.3M110.5 217.35v8.3M106.35 223.5h8.3M110.5 219.35v8.3M106.35 228.5h8.3M110.5 224.35v8.3M106.35 229.5h8.3M110.5 225.35v8.3M106.35 231.5h8.3M110.5 227.35v8.3M108.35 213.5h8.3M112.5 209.35v8.3M108.35 217.5h8.3M112.5 213.35v8.3M108.35 219.5h8.3M112.5 215.35v8.3M108.35 221.5h8.3M112.5 217.35v8.3M108.35 223.5h8.3M112.5 219.35v8.3M116.35 168.5h8.3M120.5 164.35v8.3M116.35 170.5h8.3M120.5 166.35v8.3M116.35 174.5h8.3M120.5 170.35v8.3M126.35 158.5h8.3M130.5 154.35v8.3M126.35 168.5h8.3M130.5 164.35v8.3M126.35 178.5h8.3M130.5 174.35v8.3M126.35 182.5h8.3M130.5 178.35v8.3M126.35 187.5h8.3M130.5 183.35v8.3M126.35 192.5h8.3M130.5 188.35v8.3M131.35 140.5h8.3M135.5 136.35v8.3M131.35 142.5h8.3M135.5 138.35v8.3M131.35 146.5h8.3M135.5 142.35v8.3M131.35 148.5h8.3M135.5 144.35v8.3M131.35 150.5h8.3M135.5 146.35v8.3M138.35 221.5h8.3M142.5 217.35v8.3M138.35 222.5h8.3M142.5 218.35v8.3M138.35 225.5h8.3M142.5 221.35v8.3M145.35 207.5h8.3M149.5 203.35v8.3M145.35 212.5h8.3M149.5 208.35v8.3M145.35 215.5h8.3M149.5 211.35v8.3M145.35 218.5h8.3M149.5 214.35v8.3M153.35 226.5h8.3M157.5 222.35v8.3M153.35 230.5h8.3M157.5 226.35v8.3M153.35 233.5h8.3M157.5 229.35v8.3M161.35 200.5h8.3M165.5 196.35v8.3M161.35 203.5h8.3M165.5 199.35v8.3M161.35 206.5h8.3M165.5 202.35v8.3M161.35 208.5h8.3M165.5 204.35v8.3M161.35 213.5h8.3M165.5 209.35v8.3M169.35 172.5h8.3M173.5 168.35v8.3M169.35 179.5h8.3M173.5 175.35v8.3M169.35 184.5h8.3M173.5 180.35v8.3M169.35 186.5h8.3M173.5 182.35v8.3M169.35 188.5h8.3M173.5 184.35v8.3M178.35 222.5h8.3M182.5 218.35v8.3M178.35 223.5h8.3M182.5 219.35v8.3M178.35 225.5h8.3M182.5 221.35v8.3M178.35 228.5h8.3M182.5 224.35v8.3M178.35 233.5h8.3M182.5 229.35v8.3M178.35 235.5h8.3M182.5 231.35v8.3M178.35 236.5h8.3M182.5 232.35v8.3M187.35 203.5h8.3M191.5 199.35v8.3M187.35 206.5h8.3M191.5 202.35v8.3M187.35 212.5h8.3M191.5 208.35v8.3M194.35 257.5h8.3M198.5 253.35v8.3M194.35 259.5h8.3M198.5 255.35v8.3M194.35 264.5h8.3M198.5 260.35v8.3M194.35 266.5h8.3M198.5 262.35v8.3M194.35 269.5h8.3M198.5 265.35v8.3M194.35 271.5h8.3M198.5 267.35v8.3M194.35 272.5h8.3M198.5 268.35v8.3M194.35 273.5h8.3M198.5 269.35v8.3M194.35 275.5h8.3M198.5 271.35v8.3M194.35 277.5h8.3M198.5 273.35v8.3M194.35 279.5h8.3M198.5 275.35v8.3M194.35 280.5h8.3M198.5 276.35v8.3M194.35 282.5h8.3M198.5 278.35v8.3M194.35 284.5h8.3M198.5 280.35v8.3M194.35 286.5h8.3M198.5 282.35v8.3M194.35 288.5h8.3M198.5 284.35v8.3M194.35 290.5h8.3M198.5 286.35v8.3M194.35 291.5h8.3M198.5 287.35v8.3M194.35 293.5h8.3M198.5 289.35v8.3M198.35 262.5h8.3M202.5 258.35v8.3M198.35 265.5h8.3M202.5 261.35v8.3M198.35 270.5h8.3M202.5 266.35v8.3M198.35 274.5h8.3M202.5 270.35v8.3M198.35 276.5h8.3M202.5 272.35v8.3M198.35 278.5h8.3M202.5 274.35v8.3M198.35 279.5h8.3M202.5 275.35v8.3M198.35 280.5h8.3M202.5 276.35v8.3M198.35 281.5h8.3M202.5 277.35v8.3M198.35 283.5h8.3M202.5 279.35v8.3M198.35 284.5h8.3M202.5 280.35v8.3M198.35 286.5h8.3M202.5 282.35v8.3M198.35 287.5h8.3M202.5 283.35v8.3M198.35 289.5h8.3M202.5 285.35v8.3M198.35 291.5h8.3M202.5 287.35v8.3M198.35 293.5h8.3M202.5 289.35v8.3M198.35 294.5h8.3M202.5 290.35v8.3M198.35 296.5h8.3M202.5 292.35v8.3M198.35 297.5h8.3M202.5 293.35v8.3M205.35 170.5h8.3M209.5 166.35v8.3M205.35 175.5h8.3M209.5 171.35v8.3M205.35 178.5h8.3M209.5 174.35v8.3M205.35 182.5h8.3M209.5 178.35v8.3M205.35 185.5h8.3M209.5 181.35v8.3M205.35 187.5h8.3M209.5 183.35v8.3M213.35 189.5h8.3M217.5 185.35v8.3M213.35 191.5h8.3M217.5 187.35v8.3M213.35 193.5h8.3M217.5 189.35v8.3M213.35 198.5h8.3M217.5 194.35v8.3M216.35 182.5h8.3M220.5 178.35v8.3M216.35 189.5h8.3M220.5 185.35v8.3M216.35 193.5h8.3M220.5 189.35v8.3M223.35 155.5h8.3M227.5 151.35v8.3M223.35 156.5h8.3M227.5 152.35v8.3M223.35 158.5h8.3M227.5 154.35v8.3M223.35 160.5h8.3M227.5 156.35v8.3M225.35 146.5h8.3M229.5 142.35v8.3M225.35 151.5h8.3M229.5 147.35v8.3M225.35 154.5h8.3M229.5 150.35v8.3M225.35 156.5h8.3M229.5 152.35v8.3M225.35 158.5h8.3M229.5 154.35v8.3M225.35 159.5h8.3M229.5 155.35v8.3M225.35 161.5h8.3M229.5 157.35v8.3M225.35 165.5h8.3M229.5 161.35v8.3M225.35 166.5h8.3M229.5 162.35v8.3M230.35 146.5h8.3M234.5 142.35v8.3M230.35 154.5h8.3M234.5 150.35v8.3M230.35 161.5h8.3M234.5 157.35v8.3M230.35 172.5h8.3M234.5 168.35v8.3M236.35 177.5h8.3M240.5 173.35v8.3M236.35 179.5h8.3M240.5 175.35v8.3M236.35 188.5h8.3M240.5 184.35v8.3M246.35 220.5h8.3M250.5 216.35v8.3M246.35 224.5h8.3M250.5 220.35v8.3M246.35 226.5h8.3M250.5 222.35v8.3M246.35 228.5h8.3M250.5 224.35v8.3M255.35 226.5h8.3M259.5 222.35v8.3M255.35 229.5h8.3M259.5 225.35v8.3M264.35 201.5h8.3M268.5 197.35v8.3M264.35 204.5h8.3M268.5 200.35v8.3M264.35 206.5h8.3M268.5 202.35v8.3M264.35 208.5h8.3M268.5 204.35v8.3M270.35 215.5h8.3M274.5 211.35v8.3M270.35 218.5h8.3M274.5 214.35v8.3M270.35 220.5h8.3M274.5 216.35v8.3M275.35 262.5h8.3M279.5 258.35v8.3M275.35 264.5h8.3M279.5 260.35v8.3M275.35 267.5h8.3M279.5 263.35v8.3M275.35 271.5h8.3M279.5 267.35v8.3M275.35 274.5h8.3M279.5 270.35v8.3M275.35 276.5h8.3M279.5 272.35v8.3M281.35 126.5h8.3M285.5 122.35v8.3M281.35 133.5h8.3M285.5 129.35v8.3M281.35 142.5h8.3M285.5 138.35v8.3M288.35 214.5h8.3M292.5 210.35v8.3M288.35 215.5h8.3M292.5 211.35v8.3M288.35 218.5h8.3M292.5 214.35v8.3M288.35 220.5h8.3M292.5 216.35v8.3M288.35 222.5h8.3M292.5 218.35v8.3M294.35 111.5h8.3M298.5 107.35v8.3M294.35 113.5h8.3M298.5 109.35v8.3M294.35 124.5h8.3M298.5 120.35v8.3M294.35 135.5h8.3M298.5 131.35v8.3M294.35 138.5h8.3M298.5 134.35v8.3M304.35 143.5h8.3M308.5 139.35v8.3M304.35 149.5h8.3M308.5 145.35v8.3M312.35 237.5h8.3M316.5 233.35v8.3M312.35 241.5h8.3M316.5 237.35v8.3M312.35 244.5h8.3M316.5 240.35v8.3M318.35 233.5h8.3M322.5 229.35v8.3M318.35 235.5h8.3M322.5 231.35v8.3M322.35 236.5h8.3M326.5 232.35v8.3M322.35 240.5h8.3M326.5 236.35v8.3M322.35 243.5h8.3M326.5 239.35v8.3M327.35 240.5h8.3M331.5 236.35v8.3M327.35 244.5h8.3M331.5 240.35v8.3M327.35 247.5h8.3M331.5 243.35v8.3M336.35 137.5h8.3M340.5 133.35v8.3M336.35 140.5h8.3M340.5 136.35v8.3M336.35 145.5h8.3M340.5 141.35v8.3M336.35 147.5h8.3M340.5 143.35v8.3M339.35 102.5h8.3M343.5 98.35v8.3M345.35 172.5h8.3M349.5 168.35v8.3M345.35 173.5h8.3M349.5 169.35v8.3M345.35 176.5h8.3M349.5 172.35v8.3M345.35 178.5h8.3M349.5 174.35v8.3M351.35 100.5h8.3M355.5 96.35v8.3M351.35 135.5h8.3M355.5 131.35v8.3M351.35 138.5h8.3M355.5 134.35v8.3M358.35 158.5h8.3M362.5 154.35v8.3M358.35 160.5h8.3M362.5 156.35v8.3M358.35 163.5h8.3M362.5 159.35v8.3M358.35 166.5h8.3M362.5 162.35v8.3M358.35 170.5h8.3M362.5 166.35v8.3M358.35 171.5h8.3M362.5 167.35v8.3M358.35 173.5h8.3M362.5 169.35v8.3M358.35 175.5h8.3M362.5 171.35v8.3M358.35 177.5h8.3M362.5 173.35v8.3M358.35 180.5h8.3M362.5 176.35v8.3M358.35 181.5h8.3M362.5 177.35v8.3M358.35 182.5h8.3M362.5 178.35v8.3M358.35 184.5h8.3M362.5 180.35v8.3M358.35 186.5h8.3M362.5 182.35v8.3M358.35 188.5h8.3M362.5 184.35v8.3M358.35 191.5h8.3M362.5 187.35v8.3M358.35 194.5h8.3M362.5 190.35v8.3M363.35 160.5h8.3M367.5 156.35v8.3M363.35 163.5h8.3M367.5 159.35v8.3M363.35 167.5h8.3M367.5 163.35v8.3M363.35 172.5h8.3M367.5 168.35v8.3M363.35 177.5h8.3M367.5 173.35v8.3M363.35 180.5h8.3M367.5 176.35v8.3M363.35 181.5h8.3M367.5 177.35v8.3M363.35 184.5h8.3M367.5 180.35v8.3M363.35 185.5h8.3M367.5 181.35v8.3M363.35 188.5h8.3M367.5 184.35v8.3M363.35 189.5h8.3M367.5 185.35v8.3M363.35 191.5h8.3M367.5 187.35v8.3M363.35 193.5h8.3M367.5 189.35v8.3M363.35 195.5h8.3M367.5 191.35v8.3M363.35 196.5h8.3M367.5 192.35v8.3M369.35 237.5h8.3M373.5 233.35v8.3M369.35 242.5h8.3M373.5 238.35v8.3M369.35 245.5h8.3M373.5 241.35v8.3M369.35 247.5h8.3M373.5 243.35v8.3M369.35 249.5h8.3M373.5 245.35v8.3M375.35 146.5h8.3M379.5 142.35v8.3M375.35 149.5h8.3M379.5 145.35v8.3M375.35 151.5h8.3M379.5 147.35v8.3M378.35 131.5h8.3M382.5 127.35v8.3M378.35 137.5h8.3M382.5 133.35v8.3M387.35 180.5h8.3M391.5 176.35v8.3M387.35 183.5h8.3M391.5 179.35v8.3M387.35 186.5h8.3M391.5 182.35v8.3M387.35 191.5h8.3M391.5 187.35v8.3M387.35 196.5h8.3M391.5 192.35v8.3M387.35 198.5h8.3M391.5 194.35v8.3M387.35 200.5h8.3M391.5 196.35v8.3M387.35 201.5h8.3M391.5 197.35v8.3M387.35 203.5h8.3M391.5 199.35v8.3M387.35 204.5h8.3M391.5 200.35v8.3M394.35 182.5h8.3M398.5 178.35v8.3M394.35 184.5h8.3M398.5 180.35v8.3M394.35 188.5h8.3M398.5 184.35v8.3M394.35 190.5h8.3M398.5 186.35v8.3M394.35 194.5h8.3M398.5 190.35v8.3M394.35 197.5h8.3M398.5 193.35v8.3M394.35 199.5h8.3M398.5 195.35v8.3M394.35 201.5h8.3M398.5 197.35v8.3M394.35 202.5h8.3M398.5 198.35v8.3M394.35 204.5h8.3M398.5 200.35v8.3M394.35 205.5h8.3M398.5 201.35v8.3M394.35 208.5h8.3M398.5 204.35v8.3M401.35 187.5h8.3M405.5 183.35v8.3M401.35 191.5h8.3M405.5 187.35v8.3M401.35 193.5h8.3M405.5 189.35v8.3M401.35 195.5h8.3M405.5 191.35v8.3M401.35 198.5h8.3M405.5 194.35v8.3M401.35 200.5h8.3M405.5 196.35v8.3M401.35 202.5h8.3M405.5 198.35v8.3M401.35 203.5h8.3M405.5 199.35v8.3M401.35 205.5h8.3M405.5 201.35v8.3M401.35 206.5h8.3M405.5 202.35v8.3M401.35 207.5h8.3M405.5 203.35v8.3M401.35 209.5h8.3M405.5 205.35v8.3M401.35 210.5h8.3M405.5 206.35v8.3M401.35 212.5h8.3M405.5 208.35v8.3M407.35 185.5h8.3M411.5 181.35v8.3M407.35 189.5h8.3M411.5 185.35v8.3M407.35 194.5h8.3M411.5 190.35v8.3M407.35 197.5h8.3M411.5 193.35v8.3M407.35 202.5h8.3M411.5 198.35v8.3M407.35 204.5h8.3M411.5 200.35v8.3M407.35 205.5h8.3M411.5 201.35v8.3M407.35 206.5h8.3M411.5 202.35v8.3M407.35 207.5h8.3M411.5 203.35v8.3M407.35 209.5h8.3M411.5 205.35v8.3M407.35 211.5h8.3M411.5 207.35v8.3M413.35 173.5h8.3M417.5 169.35v8.3M413.35 178.5h8.3M417.5 174.35v8.3M413.35 179.5h8.3M417.5 175.35v8.3M413.35 183.5h8.3M417.5 179.35v8.3M413.35 201.5h8.3M417.5 197.35v8.3M413.35 202.5h8.3M417.5 198.35v8.3M413.35 204.5h8.3M417.5 200.35v8.3M413.35 205.5h8.3M417.5 201.35v8.3M413.35 206.5h8.3M417.5 202.35v8.3M413.35 208.5h8.3M417.5 204.35v8.3M413.35 209.5h8.3M417.5 205.35v8.3M413.35 212.5h8.3M417.5 208.35v8.3M413.35 213.5h8.3M417.5 209.35v8.3M413.35 214.5h8.3M417.5 210.35v8.3M413.35 216.5h8.3M417.5 212.35v8.3M413.35 217.5h8.3M417.5 213.35v8.3M413.35 219.5h8.3M417.5 215.35v8.3M413.35 220.5h8.3M417.5 216.35v8.3M413.35 222.5h8.3M417.5 218.35v8.3M413.35 224.5h8.3M417.5 220.35v8.3M419.35 233.5h8.3M423.5 229.35v8.3M419.35 236.5h8.3M423.5 232.35v8.3M419.35 239.5h8.3M423.5 235.35v8.3M419.35 241.5h8.3M423.5 237.35v8.3M419.35 243.5h8.3M423.5 239.35v8.3M419.35 245.5h8.3M423.5 241.35v8.3M419.35 248.5h8.3M423.5 244.35v8.3M426.35 182.5h8.3M430.5 178.35v8.3M426.35 185.5h8.3M430.5 181.35v8.3M426.35 190.5h8.3M430.5 186.35v8.3M430.35 165.5h8.3M434.5 161.35v8.3M430.35 168.5h8.3M434.5 164.35v8.3M430.35 171.5h8.3M434.5 167.35v8.3M438.35 161.5h8.3M442.5 157.35v8.3M438.35 164.5h8.3M442.5 160.35v8.3M438.35 166.5h8.3M442.5 162.35v8.3M438.35 170.5h8.3M442.5 166.35v8.3M438.35 171.5h8.3M442.5 167.35v8.3M438.35 175.5h8.3M442.5 171.35v8.3M438.35 178.5h8.3M442.5 174.35v8.3M438.35 180.5h8.3M442.5 176.35v8.3M444.35 192.5h8.3M448.5 188.35v8.3M444.35 197.5h8.3M448.5 193.35v8.3M444.35 202.5h8.3M448.5 198.35v8.3M444.35 207.5h8.3M448.5 203.35v8.3M444.35 210.5h8.3M448.5 206.35v8.3M444.35 211.5h8.3M448.5 207.35v8.3M444.35 213.5h8.3M448.5 209.35v8.3M444.35 214.5h8.3M448.5 210.35v8.3M444.35 216.5h8.3M448.5 212.35v8.3M444.35 217.5h8.3M448.5 213.35v8.3M444.35 218.5h8.3M448.5 214.35v8.3M444.35 220.5h8.3M448.5 216.35v8.3M444.35 222.5h8.3M448.5 218.35v8.3M444.35 223.5h8.3M448.5 219.35v8.3M444.35 225.5h8.3M448.5 221.35v8.3M444.35 226.5h8.3M448.5 222.35v8.3M444.35 227.5h8.3M448.5 223.35v8.3M444.35 229.5h8.3M448.5 225.35v8.3M452.35 252.5h8.3M456.5 248.35v8.3M452.35 254.5h8.3M456.5 250.35v8.3M452.35 256.5h8.3M456.5 252.35v8.3M452.35 258.5h8.3M456.5 254.35v8.3M452.35 262.5h8.3M456.5 258.35v8.3M452.35 265.5h8.3M456.5 261.35v8.3M460.35 206.5h8.3M464.5 202.35v8.3M460.35 208.5h8.3M464.5 204.35v8.3M460.35 211.5h8.3M464.5 207.35v8.3M460.35 214.5h8.3M464.5 210.35v8.3M460.35 217.5h8.3M464.5 213.35v8.3M460.35 220.5h8.3M464.5 216.35v8.3M466.35 235.5h8.3M470.5 231.35v8.3M466.35 236.5h8.3M470.5 232.35v8.3M466.35 240.5h8.3M470.5 236.35v8.3M471.35 211.5h8.3M475.5 207.35v8.3M471.35 213.5h8.3M475.5 209.35v8.3M477.35 222.5h8.3M481.5 218.35v8.3M477.35 225.5h8.3M481.5 221.35v8.3M477.35 228.5h8.3M481.5 224.35v8.3M477.35 230.5h8.3M481.5 226.35v8.3M477.35 232.5h8.3M481.5 228.35v8.3M484.35 230.5h8.3M488.5 226.35v8.3M484.35 231.5h8.3M488.5 227.35v8.3M484.35 236.5h8.3M488.5 232.35v8.3M492.35 224.5h8.3M496.5 220.35v8.3M492.35 226.5h8.3M496.5 222.35v8.3M501.35 146.5h8.3M505.5 142.35v8.3M501.35 153.5h8.3M505.5 149.35v8.3M501.35 154.5h8.3M505.5 150.35v8.3M501.35 156.5h8.3M505.5 152.35v8.3M501.35 159.5h8.3M505.5 155.35v8.3M501.35 166.5h8.3M505.5 162.35v8.3M501.35 173.5h8.3M505.5 169.35v8.3M501.35 176.5h8.3M505.5 172.35v8.3M501.35 177.5h8.3M505.5 173.35v8.3M511.35 191.5h8.3M515.5 187.35v8.3M511.35 195.5h8.3M515.5 191.35v8.3M511.35 202.5h8.3M515.5 198.35v8.3M511.35 206.5h8.3M515.5 202.35v8.3M511.35 210.5h8.3M515.5 206.35v8.3M511.35 211.5h8.3M515.5 207.35v8.3M511.35 213.5h8.3M515.5 209.35v8.3M511.35 214.5h8.3M515.5 210.35v8.3M511.35 216.5h8.3M515.5 212.35v8.3M511.35 219.5h8.3M515.5 215.35v8.3M511.35 220.5h8.3M515.5 216.35v8.3M511.35 223.5h8.3M515.5 219.35v8.3M511.35 224.5h8.3M515.5 220.35v8.3M511.35 226.5h8.3M515.5 222.35v8.3M511.35 228.5h8.3M515.5 224.35v8.3M511.35 229.5h8.3M515.5 225.35v8.3M511.35 230.5h8.3M515.5 226.35v8.3M511.35 232.5h8.3M515.5 228.35v8.3M511.35 233.5h8.3M515.5 229.35v8.3M511.35 235.5h8.3M515.5 231.35v8.3M511.35 237.5h8.3M515.5 233.35v8.3M511.35 239.5h8.3M515.5 235.35v8.3M511.35 241.5h8.3M515.5 237.35v8.3M511.35 242.5h8.3M515.5 238.35v8.3M511.35 244.5h8.3M515.5 240.35v8.3M511.35 245.5h8.3M515.5 241.35v8.3M511.35 247.5h8.3M515.5 243.35v8.3M511.35 249.5h8.3M515.5 245.35v8.3M511.35 251.5h8.3M515.5 247.35v8.3M511.35 252.5h8.3M515.5 248.35v8.3M520.35 191.5h8.3M524.5 187.35v8.3M520.35 200.5h8.3M524.5 196.35v8.3M520.35 202.5h8.3M524.5 198.35v8.3M520.35 213.5h8.3M524.5 209.35v8.3M520.35 217.5h8.3M524.5 213.35v8.3M520.35 220.5h8.3M524.5 216.35v8.3M520.35 221.5h8.3M524.5 217.35v8.3M520.35 223.5h8.3M524.5 219.35v8.3M520.35 224.5h8.3M524.5 220.35v8.3M520.35 226.5h8.3M524.5 222.35v8.3M520.35 228.5h8.3M524.5 224.35v8.3M520.35 231.5h8.3M524.5 227.35v8.3M520.35 232.5h8.3M524.5 228.35v8.3M520.35 234.5h8.3M524.5 230.35v8.3M520.35 236.5h8.3M524.5 232.35v8.3M520.35 237.5h8.3M524.5 233.35v8.3M520.35 239.5h8.3M524.5 235.35v8.3M520.35 240.5h8.3M524.5 236.35v8.3M520.35 242.5h8.3M524.5 238.35v8.3M520.35 243.5h8.3M524.5 239.35v8.3M520.35 245.5h8.3M524.5 241.35v8.3M520.35 247.5h8.3M524.5 243.35v8.3M520.35 249.5h8.3M524.5 245.35v8.3M520.35 251.5h8.3M524.5 247.35v8.3M530.35 163.5h8.3M534.5 159.35v8.3M530.35 170.5h8.3M534.5 166.35v8.3M530.35 171.5h8.3M534.5 167.35v8.3M530.35 176.5h8.3M534.5 172.35v8.3M530.35 178.5h8.3M534.5 174.35v8.3M530.35 180.5h8.3M534.5 176.35v8.3M530.35 183.5h8.3M534.5 179.35v8.3M530.35 185.5h8.3M534.5 181.35v8.3M530.35 186.5h8.3M534.5 182.35v8.3M530.35 188.5h8.3M534.5 184.35v8.3M530.35 197.5h8.3M534.5 193.35v8.3M530.35 198.5h8.3M534.5 194.35v8.3M538.35 224.5h8.3M542.5 220.35v8.3M538.35 227.5h8.3M542.5 223.35v8.3M538.35 229.5h8.3M542.5 225.35v8.3M543.35 160.5h8.3M547.5 156.35v8.3M543.35 163.5h8.3M547.5 159.35v8.3M543.35 167.5h8.3M547.5 163.35v8.3M543.35 170.5h8.3M547.5 166.35v8.3M543.35 172.5h8.3M547.5 168.35v8.3M543.35 174.5h8.3M547.5 170.35v8.3M547.35 150.5h8.3M551.5 146.35v8.3M547.35 153.5h8.3M551.5 149.35v8.3M547.35 155.5h8.3M551.5 151.35v8.3M549.35 137.5h8.3M553.5 133.35v8.3M549.35 140.5h8.3M553.5 136.35v8.3M549.35 143.5h8.3M553.5 139.35v8.3M549.35 145.5h8.3M553.5 141.35v8.3M549.35 146.5h8.3M553.5 142.35v8.3M549.35 148.5h8.3M553.5 144.35v8.3M549.35 150.5h8.3M553.5 146.35v8.3M549.35 153.5h8.3M553.5 149.35v8.3M552.35 142.5h8.3M556.5 138.35v8.3M552.35 145.5h8.3M556.5 141.35v8.3M552.35 147.5h8.3M556.5 143.35v8.3M552.35 152.5h8.3M556.5 148.35v8.3M552.35 155.5h8.3M556.5 151.35v8.3M558.35 157.5h8.3M562.5 153.35v8.3M558.35 167.5h8.3M562.5 163.35v8.3M558.35 175.5h8.3M562.5 171.35v8.3M558.35 190.5h8.3M562.5 186.35v8.3M558.35 197.5h8.3M562.5 193.35v8.3M558.35 204.5h8.3M562.5 200.35v8.3M566.35 193.5h8.3M570.5 189.35v8.3M566.35 196.5h8.3M570.5 192.35v8.3M566.35 200.5h8.3M570.5 196.35v8.3M566.35 202.5h8.3M570.5 198.35v8.3M566.35 206.5h8.3M570.5 202.35v8.3M566.35 210.5h8.3M570.5 206.35v8.3M573.35 245.5h8.3M577.5 241.35v8.3M573.35 246.5h8.3M577.5 242.35v8.3M573.35 250.5h8.3M577.5 246.35v8.3M578.35 228.5h8.3M582.5 224.35v8.3M578.35 230.5h8.3M582.5 226.35v8.3M578.35 234.5h8.3M582.5 230.35v8.3M578.35 239.5h8.3M582.5 235.35v8.3M578.35 243.5h8.3M582.5 239.35v8.3M578.35 244.5h8.3M582.5 240.35v8.3M578.35 246.5h8.3M582.5 242.35v8.3M578.35 247.5h8.3M582.5 243.35v8.3M578.35 248.5h8.3M582.5 244.35v8.3M578.35 250.5h8.3M582.5 246.35v8.3M578.35 251.5h8.3M582.5 247.35v8.3M578.35 253.5h8.3M582.5 249.35v8.3M578.35 254.5h8.3M582.5 250.35v8.3M578.35 256.5h8.3M582.5 252.35v8.3M578.35 259.5h8.3M582.5 255.35v8.3M578.35 260.5h8.3M582.5 256.35v8.3M578.35 262.5h8.3M582.5 258.35v8.3M578.35 263.5h8.3M582.5 259.35v8.3M583.35 233.5h8.3M587.5 229.35v8.3M583.35 238.5h8.3M587.5 234.35v8.3M583.35 240.5h8.3M587.5 236.35v8.3M583.35 245.5h8.3M587.5 241.35v8.3M583.35 248.5h8.3M587.5 244.35v8.3M583.35 251.5h8.3M587.5 247.35v8.3M583.35 252.5h8.3M587.5 248.35v8.3M583.35 253.5h8.3M587.5 249.35v8.3M583.35 254.5h8.3M587.5 250.35v8.3M583.35 256.5h8.3M587.5 252.35v8.3M583.35 258.5h8.3M587.5 254.35v8.3M583.35 261.5h8.3M587.5 257.35v8.3M583.35 262.5h8.3M587.5 258.35v8.3M583.35 264.5h8.3M587.5 260.35v8.3M583.35 266.5h8.3M587.5 262.35v8.3M583.35 267.5h8.3M587.5 263.35v8.3M583.35 270.5h8.3M587.5 266.35v8.3M588.35 250.5h8.3M592.5 246.35v8.3M588.35 253.5h8.3M592.5 249.35v8.3M588.35 256.5h8.3M592.5 252.35v8.3M588.35 261.5h8.3M592.5 257.35v8.3M588.35 266.5h8.3M592.5 262.35v8.3M588.35 267.5h8.3M592.5 263.35v8.3M588.35 269.5h8.3M592.5 265.35v8.3M588.35 270.5h8.3M592.5 266.35v8.3M588.35 272.5h8.3M592.5 268.35v8.3M588.35 274.5h8.3M592.5 270.35v8.3M588.35 276.5h8.3M592.5 272.35v8.3M588.35 277.5h8.3M592.5 273.35v8.3M588.35 279.5h8.3M592.5 275.35v8.3M588.35 281.5h8.3M592.5 277.35v8.3M588.35 283.5h8.3M592.5 279.35v8.3M588.35 285.5h8.3M592.5 281.35v8.3M592.35 220.5h8.3M596.5 216.35v8.3M592.35 223.5h8.3M596.5 219.35v8.3M596.35 221.5h8.3M600.5 217.35v8.3M596.35 224.5h8.3M600.5 220.35v8.3M596.35 229.5h8.3M600.5 225.35v8.3M596.35 233.5h8.3M600.5 229.35v8.3M596.35 236.5h8.3M600.5 232.35v8.3M105.35 229.5h8.3M105.35 231.5h8.3M105.35 234.5h8.3M104.35 237.5h8.3M104.35 239.5h8.3M105.35 241.5h8.3M106.35 243.5h8.3M104.35 246.5h8.3M105.35 249.5h8.3M104.35 252.5h8.3M105.35 255.5h8.3M105.35 256.5h8.3M104.35 259.5h8.3M105.35 261.5h8.3M106.35 264.5h8.3M104.35 266.5h8.3M104.35 269.5h8.3M104.35 272.5h8.3M104.35 274.5h8.3M104.35 277.5h8.3M104.35 280.5h8.3M106.35 282.5h8.3M105.35 284.5h8.3M106.35 287.5h8.3M104.35 290.5h8.3M106.35 292.5h8.3M105.35 294.5h8.3M106.35 296.5h8.3M105.35 298.5h8.3M105.35 302.5h8.3M104.35 304.5h8.3M106.35 307.5h8.3M105.35 309.5h8.3M104.35 311.5h8.3M105.35 313.5h8.3M104.35 315.5h8.3M104.35 317.5h8.3M104.35 319.5h8.3M105.35 321.5h8.3M105.35 324.5h8.3M105.35 326.5h8.3M106.35 329.5h8.3M105.35 332.5h8.3M105.35 334.5h8.3M104.35 337.5h8.3M105.35 338.5h8.3M105.35 341.5h8.3M106.35 343.5h8.3M104.35 346.5h8.3M104.35 348.5h8.3M105.35 350.5h8.3M104.35 353.5h8.3M104.35 355.5h8.3M105.35 358.5h8.3M105.35 361.5h8.3M105.35 363.5h8.3M105.35 365.5h8.3M104.35 367.5h8.3M105.35 369.5h8.3M104.35 373.5h8.3M106.35 375.5h8.3M105.35 378.5h8.3M106.35 382.5h8.3M104.35 384.5h8.3M106.35 385.5h8.3M105.35 388.5h8.3M105.35 391.5h8.3M106.35 394.5h8.3M105.35 397.5h8.3M104.35 399.5h8.3M106.35 402.5h8.3M104.35 404.5h8.3M105.35 407.5h8.3M106.35 409.5h8.3M105.35 411.5h8.3M104.35 413.5h8.3M106.35 416.5h8.3M105.35 419.5h8.3M105.35 421.5h8.3M597.35 229.5h8.3M597.35 231.5h8.3M597.35 233.5h8.3M596.35 236.5h8.3M597.35 238.5h8.3M597.35 240.5h8.3M597.35 242.5h8.3M596.35 244.5h8.3M596.35 246.5h8.3M596.35 248.5h8.3M596.35 251.5h8.3M596.35 253.5h8.3M597.35 257.5h8.3M596.35 258.5h8.3M596.35 262.5h8.3M597.35 263.5h8.3M596.35 267.5h8.3M596.35 268.5h8.3M597.35 270.5h8.3M597.35 273.5h8.3M597.35 276.5h8.3M596.35 279.5h8.3M596.35 283.5h8.3M596.35 284.5h8.3M596.35 287.5h8.3M596.35 290.5h8.3M597.35 293.5h8.3M597.35 296.5h8.3M596.35 297.5h8.3M596.35 300.5h8.3M596.35 302.5h8.3M597.35 304.5h8.3M596.35 307.5h8.3M597.35 309.5h8.3M596.35 312.5h8.3M596.35 314.5h8.3M597.35 316.5h8.3M597.35 319.5h8.3M596.35 321.5h8.3M597.35 323.5h8.3M596.35 326.5h8.3M596.35 329.5h8.3M596.35 332.5h8.3M597.35 334.5h8.3M596.35 336.5h8.3M596.35 339.5h8.3M596.35 342.5h8.3M596.35 344.5h8.3M597.35 346.5h8.3M596.35 348.5h8.3M596.35 350.5h8.3M596.35 352.5h8.3M596.35 355.5h8.3M596.35 358.5h8.3M597.35 360.5h8.3M596.35 363.5h8.3M596.35 366.5h8.3M596.35 368.5h8.3M596.35 370.5h8.3M597.35 372.5h8.3M596.35 374.5h8.3M596.35 376.5h8.3M596.35 378.5h8.3M596.35 381.5h8.3M597.35 383.5h8.3M596.35 386.5h8.3M596.35 388.5h8.3M596.35 390.5h8.3M596.35 392.5h8.3M596.35 394.5h8.3M596.35 397.5h8.3M596.35 399.5h8.3M596.35 401.5h8.3M596.35 403.5h8.3M597.35 406.5h8.3M597.35 408.5h8.3M597.35 410.5h8.3M596.35 413.5h8.3M596.35 416.5h8.3M597.35 419.5h8.3M597.35 421.5h8.3" stroke="#00f" stroke-width="1.39" fill="none"/>
<path d="M119.2 410.0h1.3v1.5h-1.3zM116.3 411.4h6.4v1.5h-6.4zM117.0 412.8h5.4v1.5h-5.4zM113.4 414.2h9.9v1.5h-9.9zM114.4 415.6h8.7v1.5h-8.7zM112.4 417.0h10.1v1.5h-10.1zM112.9 418.4h9.8v1.5h-9.8zM110.0 419.8h12.0v1.5h-12.0zM108.9 421.2h14.3v1.5h-14.3zM134.1 351.2h1.8v1.5h-1.8zM133.3 352.6h1.1v1.5h-1.1zM133.1 354.0h3.6v1.5h-3.6zM133.7 355.4h2.5v1.5h-2.5zM135.0 356.8h1.7v1.5h-1.7zM133.1 358.2h2.7v1.5h-2.7zM133.1 359.6h2.4v1.5h-2.4zM132.9 361.0h3.3v1.5h-3.3zM134.6 362.4h2.7v1.5h-2.7zM134.7 363.8h1.4v1.5h-1.4zM134.7 365.2h0.8v1.5h-0.8zM134.9 366.6h1.4v1.5h-1.4zM134.1 368.0h3.1v1.5h-3.1zM132.8 369.4h4.7v1.5h-4.7zM134.3 370.8h3.7v1.5h-3.7zM134.2 372.2h3.8v1.5h-3.8zM134.1 373.6h3.4v1.5h-3.4zM133.0 375.0h4.3v1.5h-4.3zM133.9 376.4h2.5v1.5h-2.5zM134.9 377.8h2.1v1.5h-2.1zM133.4 379.2h3.7v1.5h-3.7zM134.9 380.6h4.1v1.5h-4.1zM132.9 382.0h6.4v1.5h-6.4zM134.5 383.4h4.5v1.5h-4.5zM134.1 384.8h4.3v1.5h-4.3zM133.3 386.2h5.6v1.5h-5.6zM134.5 387.6h5.5v1.5h-5.5zM133.9 389.0h5.1v1.5h-5.1zM132.9 390.4h6.5v1.5h-6.5zM133.2 391.8h6.7v1.5h-6.7zM132.7 393.2h6.1v1.5h-6.1zM134.7 394.6h5.5v1.5h-5.5zM133.3 396.0h7.4v1.5h-7.4zM134.2 397.4h7.2v1.5h-7.2zM134.1 398.8h6.4v1.5h-6.4zM132.2 400.2h8.4v1.5h-8.4zM133.0 401.6h8.9v1.5h-8.9zM133.3 403.0h8.4v1.5h-8.4zM132.1 404.4h8.5v1.5h-8.5zM134.2 405.8h6.9v1.5h-6.9zM133.7 407.2h7.0v1.5h-7.0zM133.7 408.6h9.1v1.5h-9.1zM133.4 410.0h9.2v1.5h-9.2zM131.8 411.4h9.2v1.5h-9.2zM133.2 412.8h9.4v1.5h-9.4zM131.8 414.2h9.4v1.5h-9.4zM133.7 415.6h8.1v1.5h-8.1zM133.5 417.0h9.7v1.5h-9.7zM133.1 418.4h10.0v1.5h-10.0zM131.9 419.8h11.6v1.5h-11.6zM132.8 421.2h9.3v1.5h-9.3zM147.0 411.2h2.5v1.5h-2.5zM147.4 412.6h1.9v1.5h-1.9zM145.7 414.0h5.0v1.5h-5.0zM146.2 415.4h3.7v1.5h-3.7zM146.4 416.8h2.7v1.5h-2.7zM145.7 418.2h3.5v1.5h-3.5zM145.7 419.6h4.7v1.5h-4.7zM145.3 421.0h4.5v1.5h-4.5zM219.9 387.5h5.2v1.5h-5.2zM218.5 388.9h9.0v1.5h-9.0zM216.8 390.3h11.0v1.5h-11.0zM218.6 391.7h8.3v1.5h-8.3zM217.1 393.1h10.4v1.5h-10.4zM217.7 394.5h8.8v1.5h-8.8zM216.4 395.9h11.7v1.5h-11.7zM216.6 397.3h10.5v1.5h-10.5zM215.3 398.7h11.8v1.5h-11.8zM214.4 400.1h12.7v1.5h-12.7zM213.9 401.5h13.1v1.5h-13.1zM214.8 402.9h14.0v1.5h-14.0zM213.2 404.3h14.7v1.5h-14.7zM212.3 405.7h16.8v1.5h-16.8zM212.7 407.1h16.3v1.5h-16.3zM211.9 408.5h16.7v1.5h-16.7zM210.6 409.9h16.8v1.5h-16.8zM208.6 411.3h19.9v1.5h-19.9zM208.2 412.7h19.7v1.5h-19.7zM206.6 414.1h21.7v1.5h-21.7zM207.3 415.5h20.0v1.5h-20.0zM205.1 416.9h23.5v1.5h-23.5zM205.0 418.3h23.6v1.5h-23.6zM204.9 419.7h23.5v1.5h-23.5zM203.6 421.1h24.2v1.5h-24.2zM236.6 363.8h4.2v1.5h-4.2zM236.0 365.1h2.8v1.5h-2.8zM237.5 366.5h3.1v1.5h-3.1zM236.5 367.9h2.5v1.5h-2.5zM235.6 369.3h4.9v1.5h-4.9zM235.8 370.7h5.0v1.5h-5.0zM237.5 372.1h1.5v1.5h-1.5zM237.0 373.5h4.1v1.5h-4.1zM236.3 374.9h4.0v1.5h-4.0zM236.2 376.3h4.0v1.5h-4.0zM235.9 377.7h3.5v1.5h-3.5zM234.5 379.1h4.6v1.5h-4.6zM234.5 380.5h4.9v1.5h-4.9zM234.9 381.9h6.4v1.5h-6.4zM234.7 383.3h5.8v1.5h-5.8zM236.1 384.7h3.4v1.5h-3.4zM235.5 386.1h4.9v1.5h-4.9zM236.0 387.5h4.7v1.5h-4.7zM235.4 388.9h5.2v1.5h-5.2zM235.6 390.3h3.6v1.5h-3.6zM235.9 391.7h5.7v1.5h-5.7zM236.1 393.1h4.2v1.5h-4.2zM235.7 394.5h4.4v1.5h-4.4zM235.4 395.9h6.1v1.5h-6.1zM234.5 397.3h6.3v1.5h-6.3zM234.7 398.7h7.0v1.5h-7.0zM234.9 400.1h5.9v1.5h-5.9zM234.5 401.5h6.9v1.5h-6.9zM236.5 402.9h5.1v1.5h-5.1zM234.9 404.3h4.5v1.5h-4.5zM235.8 405.7h5.2v1.5h-5.2zM235.9 407.1h5.7v1.5h-5.7zM236.6 408.5h3.5v1.5h-3.5zM236.5 409.9h5.1v1.5h-5.1zM234.3 411.3h6.3v1.5h-6.3zM234.5 412.7h7.1v1.5h-7.1zM236.2 414.1h3.7v1.5h-3.7zM234.5 415.5h7.2v1.5h-7.2zM234.5 416.9h5.9v1.5h-5.9zM235.5 418.3h4.9v1.5h-4.9zM236.2 419.7h5.6v1.5h-5.6zM236.5 421.1h5.1v1.5h-5.1zM265.1 415.0h4.0v1.5h-4.0zM262.0 416.4h6.1v1.5h-6.1zM260.2 417.8h10.6v1.5h-10.6zM260.1 419.2h10.7v1.5h-10.7zM261.0 420.6h8.8v1.5h-8.8zM297.4 380.0h3.0v1.5h-3.0zM296.4 381.4h2.8v1.5h-2.8zM296.2 382.8h4.4v1.5h-4.4zM296.3 384.2h5.3v1.5h-5.3zM297.6 385.6h1.6v1.5h-1.6zM296.1 387.0h4.6v1.5h-4.6zM295.8 388.4h3.5v1.5h-3.5zM295.8 389.8h5.5v1.5h-5.5zM297.6 391.2h2.2v1.5h-2.2zM298.0 392.6h2.6v1.5h-2.6zM297.2 394.0h4.2v1.5h-4.2zM297.4 395.4h3.6v1.5h-3.6zM296.4 396.8h3.5v1.5h-3.5zM296.0 398.2h3.5v1.5h-3.5zM297.8 399.6h3.9v1.5h-3.9zM297.2 401.0h2.4v1.5h-2.4zM297.2 402.4h3.8v1.5h-3.8zM296.5 403.8h3.3v1.5h-3.3zM297.2 405.2h3.9v1.5h-3.9zM295.9 406.6h4.4v1.5h-4.4zM295.8 408.0h4.6v1.5h-4.6zM297.4 409.4h2.2v1.5h-2.2zM297.0 410.8h4.9v1.5h-4.9zM297.0 412.2h4.1v1.5h-4.1zM296.2 413.6h4.1v1.5h-4.1zM296.8 415.0h4.8v1.5h-4.8zM295.0 416.4h6.0v1.5h-6.0zM295.1 417.8h5.7v1.5h-5.7zM294.9 419.2h6.2v1.5h-6.2zM296.6 420.6h5.2v1.5h-5.2zM324.2 386.2h0.9v1.5h-0.9zM322.5 387.6h4.2v1.5h-4.2zM320.7 389.0h7.5v1.5h-7.5zM319.7 390.4h7.6v1.5h-7.6zM319.5 391.8h8.5v1.5h-8.5zM321.1 393.2h7.5v1.5h-7.5zM320.3 394.6h8.2v1.5h-8.2zM319.9 396.0h7.5v1.5h-7.5zM318.7 397.4h9.1v1.5h-9.1zM320.4 398.8h5.9v1.5h-5.9zM318.4 400.2h9.6v1.5h-9.6zM319.8 401.6h6.9v1.5h-6.9zM320.4 403.0h6.4v1.5h-6.4zM318.1 404.4h8.0v1.5h-8.0zM318.0 405.8h10.1v1.5h-10.1zM320.0 407.2h8.3v1.5h-8.3zM318.7 408.6h9.8v1.5h-9.8zM318.6 410.0h9.6v1.5h-9.6zM318.7 411.4h10.6v1.5h-10.6zM318.0 412.8h12.9v1.5h-12.9zM319.1 414.2h12.3v1.5h-12.3zM317.8 415.6h12.9v1.5h-12.9zM319.1 417.0h11.8v1.5h-11.8zM317.4 418.4h13.7v1.5h-13.7zM318.6 419.8h13.5v1.5h-13.5zM318.4 421.2h13.1v1.5h-13.1zM341.7 352.5h1.0v1.5h-1.0zM341.2 355.3h1.5v1.5h-1.5zM342.1 356.7h1.6v1.5h-1.6zM341.6 358.1h1.2v1.5h-1.2zM342.0 359.5h2.2v1.5h-2.2zM341.6 360.9h2.6v1.5h-2.6zM342.3 362.3h2.0v1.5h-2.0zM341.2 363.7h2.2v1.5h-2.2zM340.1 365.1h5.0v1.5h-5.0zM340.0 366.5h5.2v1.5h-5.2zM341.7 367.9h1.6v1.5h-1.6zM340.7 369.3h2.8v1.5h-2.8zM339.3 370.7h4.3v1.5h-4.3zM339.5 372.1h4.5v1.5h-4.5zM339.3 373.5h4.4v1.5h-4.4zM340.8 374.9h3.5v1.5h-3.5zM340.5 376.3h4.3v1.5h-4.3zM338.2 377.7h7.8v1.5h-7.8zM339.1 379.1h5.4v1.5h-5.4zM340.4 380.5h4.5v1.5h-4.5zM337.9 381.9h7.0v1.5h-7.0zM339.6 383.3h4.7v1.5h-4.7zM338.3 384.7h8.3v1.5h-8.3zM339.3 386.1h6.7v1.5h-6.7zM339.1 387.5h7.6v1.5h-7.6zM339.1 388.9h7.3v1.5h-7.3zM339.5 390.3h7.0v1.5h-7.0zM338.7 391.7h6.8v1.5h-6.8zM337.6 393.1h7.8v1.5h-7.8zM338.2 394.5h7.7v1.5h-7.7zM338.8 395.9h8.8v1.5h-8.8zM337.5 397.3h8.9v1.5h-8.9zM338.6 398.7h7.3v1.5h-7.3zM338.9 400.1h8.0v1.5h-8.0zM336.7 401.5h11.2v1.5h-11.2zM337.9 402.9h9.7v1.5h-9.7zM338.7 404.3h9.6v1.5h-9.6zM337.3 405.7h8.9v1.5h-8.9zM338.5 407.1h10.1v1.5h-10.1zM336.6 408.5h10.4v1.5h-10.4zM336.9 409.9h11.5v1.5h-11.5zM338.7 411.3h8.5v1.5h-8.5zM337.1 412.7h11.8v1.5h-11.8zM337.4 414.1h10.1v1.5h-10.1zM337.4 415.5h9.8v1.5h-9.8zM338.1 416.9h10.1v1.5h-10.1zM337.0 418.3h12.3v1.5h-12.3zM337.2 419.7h12.8v1.5h-12.8zM336.5 421.1h12.5v1.5h-12.5zM356.4 412.5h1.5v1.5h-1.5zM354.5 413.9h3.3v1.5h-3.3zM353.4 415.3h3.9v1.5h-3.9zM352.8 416.7h3.8v1.5h-3.8zM354.9 418.1h3.3v1.5h-3.3zM354.1 419.5h4.1v1.5h-4.1zM352.6 420.9h5.1v1.5h-5.1zM365.6 415.0h5.3v1.5h-5.3zM366.8 416.4h4.3v1.5h-4.3zM366.6 417.8h3.3v1.5h-3.3zM364.3 419.2h6.8v1.5h-6.8zM363.9 420.6h7.0v1.5h-7.0zM405.1 355.0h1.9v1.5h-1.9zM406.0 356.4h1.4v1.5h-1.4zM404.2 357.8h3.0v1.5h-3.0zM405.6 359.2h2.0v1.5h-2.0zM404.4 360.6h3.9v1.5h-3.9zM405.1 362.0h2.5v1.5h-2.5zM404.9 363.4h2.2v1.5h-2.2zM404.6 364.8h3.3v1.5h-3.3zM403.8 366.2h4.4v1.5h-4.4zM404.1 367.6h3.1v1.5h-3.1zM381.8 369.0h2.2v1.5h-2.2zM402.5 369.0h6.2v1.5h-6.2zM380.9 370.4h2.6v1.5h-2.6zM403.1 370.4h3.7v1.5h-3.7zM381.8 371.8h2.0v1.5h-2.0zM404.3 371.8h3.7v1.5h-3.7zM381.1 373.2h3.6v1.5h-3.6zM403.4 373.2h3.9v1.5h-3.9zM380.3 374.6h4.0v1.5h-4.0zM403.1 374.6h5.2v1.5h-5.2zM382.2 376.0h2.1v1.5h-2.1zM402.5 376.0h6.3v1.5h-6.3zM380.4 377.4h4.7v1.5h-4.7zM402.6 377.4h6.0v1.5h-6.0zM381.5 378.8h5.3v1.5h-5.3zM401.3 378.8h8.1v1.5h-8.1zM380.9 380.2h5.4v1.5h-5.4zM401.6 380.2h6.8v1.5h-6.8zM379.7 381.6h5.4v1.5h-5.4zM402.8 381.6h6.1v1.5h-6.1zM379.1 383.0h6.4v1.5h-6.4zM401.6 383.0h7.8v1.5h-7.8zM379.7 384.4h7.3v1.5h-7.3zM401.6 384.4h8.1v1.5h-8.1zM379.9 385.8h6.5v1.5h-6.5zM400.6 385.8h8.4v1.5h-8.4zM379.6 387.2h6.9v1.5h-6.9zM400.8 387.2h8.5v1.5h-8.5zM378.7 388.6h8.4v1.5h-8.4zM401.0 388.6h7.8v1.5h-7.8zM379.6 390.0h8.7v1.5h-8.7zM400.1 390.0h8.6v1.5h-8.6zM378.3 391.4h8.5v1.5h-8.5zM399.6 391.4h10.2v1.5h-10.2zM378.9 392.8h10.1v1.5h-10.1zM399.5 392.8h9.7v1.5h-9.7zM377.9 394.2h9.6v1.5h-9.6zM399.7 394.2h9.5v1.5h-9.5zM375.8 395.6h11.7v1.5h-11.7zM400.6 395.6h8.5v1.5h-8.5zM376.9 397.0h11.9v1.5h-11.9zM401.1 397.0h8.0v1.5h-8.0zM375.3 398.4h12.9v1.5h-12.9zM398.7 398.4h10.5v1.5h-10.5zM374.8 399.8h14.2v1.5h-14.2zM399.1 399.8h11.9v1.5h-11.9zM375.6 401.2h13.3v1.5h-13.3zM398.3 401.2h11.7v1.5h-11.7zM373.2 402.6h15.5v1.5h-15.5zM399.0 402.6h10.1v1.5h-10.1zM374.8 404.0h13.8v1.5h-13.8zM399.2 404.0h10.7v1.5h-10.7zM373.5 405.4h16.0v1.5h-16.0zM397.6 405.4h12.5v1.5h-12.5zM372.2 406.8h16.6v1.5h-16.6zM397.7 406.8h12.8v1.5h-12.8zM373.6 408.2h15.4v1.5h-15.4zM396.4 408.2h14.5v1.5h-14.5zM372.4 409.6h17.1v1.5h-17.1zM396.2 409.6h15.3v1.5h-15.3zM373.5 411.0h16.6v1.5h-16.6zM393.6 411.0h18.0v1.5h-18.0zM372.7 412.4h18.3v1.5h-18.3zM394.1 412.4h18.2v1.5h-18.2zM371.9 413.8h19.6v1.5h-19.6zM393.7 413.8h16.7v1.5h-16.7zM372.9 415.2h38.0v1.5h-38.0zM371.3 416.6h41.3v1.5h-41.3zM372.4 418.0h39.0v1.5h-39.0zM370.2 419.4h41.0v1.5h-41.0zM371.3 420.8h41.5v1.5h-41.5zM433.3 381.4h1.8v1.5h-1.8zM433.4 384.2h1.0v1.5h-1.0zM431.6 385.6h3.6v1.5h-3.6zM432.8 387.0h3.4v1.5h-3.4zM432.8 388.4h1.5v1.5h-1.5zM432.8 389.8h2.6v1.5h-2.6zM430.8 391.2h4.5v1.5h-4.5zM432.6 392.6h3.3v1.5h-3.3zM431.1 394.0h3.3v1.5h-3.3zM431.5 395.4h5.5v1.5h-5.5zM431.6 396.8h3.5v1.5h-3.5zM429.5 398.2h6.4v1.5h-6.4zM429.7 399.6h6.6v1.5h-6.6zM430.1 401.0h6.7v1.5h-6.7zM431.2 402.4h4.8v1.5h-4.8zM430.8 403.8h6.2v1.5h-6.2zM429.2 405.2h8.0v1.5h-8.0zM429.6 406.6h7.2v1.5h-7.2zM430.1 408.0h7.1v1.5h-7.1zM431.0 409.4h6.9v1.5h-6.9zM428.9 410.8h6.9v1.5h-6.9zM428.9 412.2h9.2v1.5h-9.2zM430.4 413.6h7.1v1.5h-7.1zM429.6 415.0h7.2v1.5h-7.2zM430.1 416.4h8.4v1.5h-8.4zM430.7 417.8h7.1v1.5h-7.1zM429.3 419.2h9.3v1.5h-9.3zM430.3 420.6h7.2v1.5h-7.2zM443.9 390.0h2.7v1.5h-2.7zM443.6 391.4h3.3v1.5h-3.3zM443.6 392.8h3.3v1.5h-3.3zM444.3 394.2h2.9v1.5h-2.9zM444.1 395.6h1.9v1.5h-1.9zM444.7 397.0h1.6v1.5h-1.6zM443.4 398.4h3.7v1.5h-3.7zM444.3 399.8h3.5v1.5h-3.5zM444.0 401.2h4.0v1.5h-4.0zM444.2 402.6h1.8v1.5h-1.8zM442.7 404.0h5.5v1.5h-5.5zM443.6 405.4h5.0v1.5h-5.0zM442.7 406.8h4.6v1.5h-4.6zM442.9 408.2h5.4v1.5h-5.4zM442.5 409.6h5.2v1.5h-5.2zM443.5 411.0h4.0v1.5h-4.0zM442.3 412.4h4.9v1.5h-4.9zM443.9 413.8h5.0v1.5h-5.0zM443.4 415.2h4.4v1.5h-4.4zM441.7 416.6h7.7v1.5h-7.7zM443.8 418.0h4.0v1.5h-4.0zM443.6 419.4h5.9v1.5h-5.9zM442.4 420.8h7.2v1.5h-7.2zM477.1 391.2h0.8v1.5h-0.8zM477.0 392.6h0.9v1.5h-0.9zM476.5 394.0h2.3v1.5h-2.3zM477.1 395.4h2.3v1.5h-2.3zM475.9 396.8h1.3v1.5h-1.3zM475.9 398.2h3.1v1.5h-3.1zM477.0 399.6h1.7v1.5h-1.7zM474.7 401.0h3.7v1.5h-3.7zM475.9 402.4h3.0v1.5h-3.0zM475.4 403.8h2.5v1.5h-2.5zM475.4 405.2h3.7v1.5h-3.7zM475.0 406.6h5.0v1.5h-5.0zM475.1 408.0h4.2v1.5h-4.2zM474.7 409.4h4.0v1.5h-4.0zM474.3 410.8h5.9v1.5h-5.9zM474.8 412.2h5.0v1.5h-5.0zM474.9 413.6h5.5v1.5h-5.5zM476.0 415.0h3.1v1.5h-3.1zM476.1 416.4h3.7v1.5h-3.7zM475.9 417.8h3.8v1.5h-3.8zM474.8 419.2h4.2v1.5h-4.2zM474.4 420.6h4.6v1.5h-4.6zM504.1 392.5h1.6v1.5h-1.6zM503.3 393.9h1.5v1.5h-1.5zM505.0 395.3h1.0v1.5h-1.0zM504.0 396.7h1.3v1.5h-1.3zM504.6 398.1h1.2v1.5h-1.2zM502.2 399.5h4.1v1.5h-4.1zM503.2 400.9h3.8v1.5h-3.8zM501.7 402.3h6.1v1.5h-6.1zM502.0 403.7h6.4v1.5h-6.4zM501.9 405.1h4.2v1.5h-4.2zM500.9 406.5h6.1v1.5h-6.1zM502.5 407.9h4.9v1.5h-4.9zM502.8 409.3h5.8v1.5h-5.8zM502.7 410.7h5.3v1.5h-5.3zM502.7 412.1h5.5v1.5h-5.5zM500.6 413.5h6.8v1.5h-6.8zM500.8 414.9h6.0v1.5h-6.0zM502.4 416.3h5.5v1.5h-5.5zM500.5 417.7h8.4v1.5h-8.4zM500.9 419.1h6.6v1.5h-6.6zM501.6 420.5h5.7v1.5h-5.7zM555.0 363.8h0.7v1.5h-0.7zM552.5 365.1h2.4v1.5h-2.4zM552.2 366.5h3.9v1.5h-3.9zM552.5 367.9h2.8v1.5h-2.8zM553.5 369.3h2.6v1.5h-2.6zM552.6 370.7h2.1v1.5h-2.1zM552.0 372.1h2.7v1.5h-2.7zM551.0 373.5h5.8v1.5h-5.8zM550.6 374.9h5.6v1.5h-5.6zM549.3 376.3h7.0v1.5h-7.0zM548.1 377.7h8.1v1.5h-8.1zM548.0 379.1h8.4v1.5h-8.4zM548.0 380.5h9.5v1.5h-9.5zM549.0 381.9h8.8v1.5h-8.8zM547.8 383.3h10.2v1.5h-10.2zM548.5 384.7h7.7v1.5h-7.7zM548.4 386.1h7.7v1.5h-7.7zM547.7 387.5h9.2v1.5h-9.2zM547.9 388.9h10.1v1.5h-10.1zM548.3 390.3h10.2v1.5h-10.2zM546.7 391.7h9.6v1.5h-9.6zM545.8 393.1h13.0v1.5h-13.0zM546.3 394.5h11.0v1.5h-11.0zM545.7 395.9h13.3v1.5h-13.3zM546.2 397.3h15.1v1.5h-15.1zM545.8 398.7h16.2v1.5h-16.2zM547.6 400.1h15.1v1.5h-15.1zM545.7 401.5h17.2v1.5h-17.2zM545.9 402.9h16.1v1.5h-16.1zM546.7 404.3h16.2v1.5h-16.2zM547.2 405.7h15.8v1.5h-15.8zM545.4 407.1h18.2v1.5h-18.2zM546.3 408.5h16.7v1.5h-16.7zM546.4 409.9h18.2v1.5h-18.2zM547.0 411.3h18.6v1.5h-18.6zM546.4 412.7h19.4v1.5h-19.4zM545.3 414.1h20.8v1.5h-20.8zM547.3 415.5h18.3v1.5h-18.3zM568.7 415.5h2.5v1.5h-2.5zM545.5 416.9h20.4v1.5h-20.4zM567.3 416.9h4.3v1.5h-4.3zM546.9 418.3h27.1v1.5h-27.1zM545.2 419.7h28.5v1.5h-28.5zM545.9 421.1h27.9v1.5h-27.9zM592.7 412.5h2.5v1.5h-2.5zM591.6 413.9h5.0v1.5h-5.0zM590.1 415.3h5.2v1.5h-5.2zM589.3 416.7h6.3v1.5h-6.3zM589.7 418.1h5.5v1.5h-5.5zM590.9 419.5h5.3v1.5h-5.3zM589.2 420.9h6.4v1.5h-6.4zM134.8 344.8h1.0v1.1h-1.0zM132.8 347.6h1.2v1.1h-1.2zM220.9 376.3h1.2v1.1h-1.2zM221.3 379.1h1.4v1.1h-1.4zM219.7 380.5h1.7v1.1h-1.7zM220.7 384.7h1.8v1.1h-1.8zM221.9 387.5h2.1v1.1h-2.1zM219.7 388.9h1.3v1.1h-1.3zM238.7 356.4h1.0v1.1h-1.0zM238.9 357.8h0.8v1.1h-0.8zM236.8 359.2h1.1v1.1h-1.1zM238.2 362.0h1.2v1.1h-1.2zM238.7 364.8h2.1v1.1h-2.1zM297.8 375.6h1.4v1.1h-1.4zM297.6 377.0h1.1v1.1h-1.1zM324.6 379.1h2.0v1.1h-2.0zM325.0 380.5h1.1v1.1h-1.1zM323.1 383.3h2.1v1.1h-2.1zM340.7 340.5h2.2v1.1h-2.2zM343.0 341.9h1.4v1.1h-1.4zM342.2 348.9h1.4v1.1h-1.4zM342.5 350.3h1.0v1.1h-1.0zM342.5 351.7h2.0v1.1h-2.0zM341.1 353.1h1.0v1.1h-1.0zM342.5 354.5h1.1v1.1h-1.1zM407.2 346.7h1.4v1.1h-1.4zM407.2 349.5h2.2v1.1h-2.2zM406.1 350.9h2.0v1.1h-2.0zM431.8 373.6h1.0v1.1h-1.0zM432.1 375.0h0.9v1.1h-0.9zM431.9 376.4h1.0v1.1h-1.0zM445.7 386.0h1.5v1.1h-1.5zM445.2 390.2h1.8v1.1h-1.8zM445.1 391.6h1.4v1.1h-1.4zM476.6 383.0h1.6v1.1h-1.6zM478.0 385.8h1.5v1.1h-1.5zM476.1 387.2h1.3v1.1h-1.3zM476.0 391.4h2.1v1.1h-2.1zM505.6 383.3h1.2v1.1h-1.2zM503.1 384.7h0.9v1.1h-0.9zM504.6 388.9h1.7v1.1h-1.7zM504.6 391.7h1.9v1.1h-1.9zM552.7 348.4h1.7v1.1h-1.7zM553.1 349.8h1.7v1.1h-1.7zM555.0 352.6h2.0v1.1h-2.0zM554.1 355.4h1.7v1.1h-1.7zM553.5 358.2h0.9v1.1h-0.9zM555.2 361.0h1.4v1.1h-1.4zM553.1 362.4h2.0v1.1h-2.0zM554.3 365.2h2.0v1.1h-2.0zM485.8 262.6h1.0v0.9h-1.0zM490.5 269.9h1.4v0.9h-1.4zM480.1 274.4h1.8v0.9h-1.8zM487.6 261.0h1.2v0.9h-1.2zM496.1 265.1h1.1v0.9h-1.1zM484.6 276.6h1.0v0.9h-1.0zM499.4 270.2h0.9v0.9h-0.9zM486.5 281.2h1.7v0.9h-1.7zM499.1 252.8h0.9v0.9h-0.9zM497.9 261.0h1.2v0.9h-1.2zM486.2 270.6h1.1v0.9h-1.1zM496.5 273.8h1.1v0.9h-1.1zM489.3 253.2h1.4v0.9h-1.4zM489.1 252.3h0.7v0.9h-0.7zM484.6 264.3h1.2v0.9h-1.2zM493.0 279.9h0.8v0.9h-0.8zM483.8 264.6h1.1v0.9h-1.1zM495.3 279.0h1.3v0.9h-1.3zM493.8 274.4h0.7v0.9h-0.7zM487.3 263.0h0.7v0.9h-0.7zM486.2 257.3h1.4v0.9h-1.4zM485.9 262.3h1.7v0.9h-1.7zM490.2 281.1h1.4v0.9h-1.4zM490.5 276.5h0.8v0.9h-0.8zM497.9 264.4h0.7v0.9h-0.7zM491.3 255.2h1.3v0.9h-1.3zM492.6 273.7h1.4v0.9h-1.4zM480.2 252.1h1.5v0.9h-1.5zM491.1 279.5h1.1v0.9h-1.1zM482.0 252.5h0.6v0.9h-0.6zM483.5 275.1h1.3v0.9h-1.3zM497.4 278.9h1.2v0.9h-1.2zM482.9 258.0h1.3v0.9h-1.3zM482.9 267.6h1.2v0.9h-1.2zM480.6 254.3h1.7v0.9h-1.7zM583.8 261.4h1.1v0.9h-1.1zM589.4 267.8h1.4v0.9h-1.4zM585.4 250.0h0.9v0.9h-0.9zM580.0 246.2h1.4v0.9h-1.4zM590.5 278.2h0.7v0.9h-0.7zM578.4 266.8h0.6v0.9h-0.6zM579.0 258.9h1.5v0.9h-1.5zM575.8 246.9h0.9v0.9h-0.9zM579.0 250.6h1.3v0.9h-1.3zM578.1 245.2h1.6v0.9h-1.6zM583.2 259.6h0.9v0.9h-0.9zM591.0 279.3h0.7v0.9h-0.7zM587.2 268.6h1.3v0.9h-1.3zM582.4 259.0h1.5v0.9h-1.5zM575.4 275.4h0.7v0.9h-0.7zM578.1 258.3h0.6v0.9h-0.6zM590.9 258.9h1.0v0.9h-1.0zM581.0 275.5h1.0v0.9h-1.0zM586.7 278.6h1.1v0.9h-1.1zM591.4 264.4h1.1v0.9h-1.1zM583.4 257.1h1.1v0.9h-1.1zM580.0 245.9h1.6v0.9h-1.6zM579.4 249.5h0.8v0.9h-0.8zM584.8 272.6h1.3v0.9h-1.3zM583.4 272.8h0.9v0.9h-0.9zM581.6 252.6h1.1v0.9h-1.1zM586.3 265.3h1.0v0.9h-1.0zM583.6 252.2h1.6v0.9h-1.6zM587.2 278.0h1.8v0.9h-1.8zM585.7 260.4h1.8v0.9h-1.8zM584.6 259.1h1.2v0.9h-1.2zM577.3 271.3h1.4v0.9h-1.4zM576.6 274.8h1.5v0.9h-1.5zM588.8 246.0h1.5v0.9h-1.5zM577.6 245.5h1.5v0.9h-1.5zM587.5 272.2h0.9v0.9h-0.9zM578.4 276.2h0.7v0.9h-0.7zM591.4 273.2h1.5v0.9h-1.5zM578.5 270.2h0.7v0.9h-0.7zM580.2 273.6h1.1v0.9h-1.1zM581.4 274.6h1.2v0.9h-1.2zM586.3 267.0h1.6v0.9h-1.6zM591.9 251.2h1.0v0.9h-1.0zM589.4 269.2h1.7v0.9h-1.7zM575.5 269.6h1.2v0.9h-1.2zM206.0 269.6h1.7v0.9h-1.7zM197.0 267.0h0.9v0.9h-0.9zM202.1 265.3h1.4v0.9h-1.4zM200.0 274.6h1.1v0.9h-1.1zM203.6 263.7h1.5v0.9h-1.5zM201.5 275.1h1.7v0.9h-1.7zM201.6 265.5h1.2v0.9h-1.2zM201.2 282.2h1.4v0.9h-1.4zM201.8 282.5h0.7v0.9h-0.7zM203.6 275.7h1.7v0.9h-1.7zM204.8 274.0h1.4v0.9h-1.4zM205.7 276.3h0.6v0.9h-0.6zM199.2 278.7h1.0v0.9h-1.0zM205.1 270.0h1.5v0.9h-1.5zM206.0 274.8h0.9v0.9h-0.9zM201.3 268.4h1.7v0.9h-1.7zM200.4 268.2h1.2v0.9h-1.2zM202.9 280.1h1.4v0.9h-1.4zM201.1 276.2h0.8v0.9h-0.8zM202.7 280.3h1.5v0.9h-1.5zM525.1 211.0h1.7v0.9h-1.7zM538.8 232.4h0.8v0.9h-0.8zM511.7 245.3h0.9v0.9h-0.9zM515.7 255.9h0.8v0.9h-0.8zM519.2 205.4h1.4v0.9h-1.4zM510.6 239.8h1.2v0.9h-1.2zM524.8 240.9h0.6v0.9h-0.6zM533.4 207.7h1.4v0.9h-1.4zM533.6 207.7h1.4v0.9h-1.4zM529.1 214.0h1.4v0.9h-1.4zM509.8 224.6h1.7v0.9h-1.7zM532.8 209.0h1.8v0.9h-1.8zM539.4 223.6h0.8v0.9h-0.8zM533.3 200.7h1.2v0.9h-1.2zM506.8 252.0h1.0v0.9h-1.0zM509.5 217.9h1.8v0.9h-1.8zM511.6 225.8h1.3v0.9h-1.3zM516.9 232.3h0.7v0.9h-0.7zM524.2 256.8h1.2v0.9h-1.2zM535.6 219.2h1.5v0.9h-1.5zM515.8 237.4h1.7v0.9h-1.7zM525.0 245.5h1.0v0.9h-1.0zM519.7 205.3h0.9v0.9h-0.9zM530.1 242.4h1.4v0.9h-1.4zM531.8 204.5h1.5v0.9h-1.5zM506.0 222.9h0.8v0.9h-0.8zM520.1 255.8h1.2v0.9h-1.2zM541.7 239.6h0.7v0.9h-0.7zM534.5 218.0h1.3v0.9h-1.3zM520.6 237.5h1.0v0.9h-1.0zM514.4 207.9h1.7v0.9h-1.7zM539.4 214.7h0.7v0.9h-0.7zM509.4 246.6h1.7v0.9h-1.7zM546.0 223.4h0.7v0.9h-0.7zM513.9 224.5h1.5v0.9h-1.5zM545.8 235.0h1.4v0.9h-1.4zM510.8 213.2h0.8v0.9h-0.8zM531.1 223.3h1.8v0.9h-1.8zM539.9 227.8h0.9v0.9h-0.9zM520.3 201.9h1.3v0.9h-1.3zM415.5 224.9h0.8v0.9h-0.8zM390.4 190.2h1.5v0.9h-1.5zM417.4 190.8h0.6v0.9h-0.6zM419.5 199.4h1.5v0.9h-1.5zM400.5 186.3h1.6v0.9h-1.6zM410.3 229.1h1.2v0.9h-1.2zM405.9 225.3h1.1v0.9h-1.1zM405.6 233.6h0.8v0.9h-0.8zM401.2 232.3h0.7v0.9h-0.7zM414.7 240.9h1.0v0.9h-1.0zM409.7 228.9h1.1v0.9h-1.1zM400.2 235.9h0.8v0.9h-0.8zM416.6 226.3h1.4v0.9h-1.4zM416.0 202.9h1.5v0.9h-1.5zM410.8 197.2h1.3v0.9h-1.3zM406.3 257.7h1.0v0.9h-1.0zM395.9 219.5h0.9v0.9h-0.9zM395.5 259.6h0.8v0.9h-0.8zM412.7 202.8h1.6v0.9h-1.6zM409.4 200.3h1.4v0.9h-1.4zM411.4 203.3h1.1v0.9h-1.1zM405.9 239.0h1.5v0.9h-1.5zM418.0 229.1h1.6v0.9h-1.6zM410.4 246.8h0.8v0.9h-0.8zM404.6 224.5h1.6v0.9h-1.6zM419.3 233.6h1.8v0.9h-1.8zM405.0 221.0h1.4v0.9h-1.4zM406.0 259.6h0.8v0.9h-0.8zM403.7 193.1h1.0v0.9h-1.0zM408.4 216.7h0.7v0.9h-0.7zM118.2 398.0h1.7v0.9h-1.7zM120.3 370.7h0.8v0.9h-0.8zM122.5 369.1h1.8v0.9h-1.8zM119.0 370.4h1.5v0.9h-1.5zM119.8 382.2h1.6v0.9h-1.6zM122.0 399.6h0.6v0.9h-0.6zM119.3 376.2h1.2v0.9h-1.2zM120.6 381.8h1.2v0.9h-1.2zM122.1 381.6h1.0v0.9h-1.0zM119.6 393.3h0.6v0.9h-0.6zM122.6 376.4h1.0v0.9h-1.0zM121.5 366.0h1.8v0.9h-1.8zM120.2 402.2h1.2v0.9h-1.2zM118.4 377.1h0.8v0.9h-0.8zM122.7 406.1h1.4v0.9h-1.4zM122.2 392.7h0.9v0.9h-0.9zM123.0 400.8h0.9v0.9h-0.9zM120.2 366.2h1.8v0.9h-1.8zM120.4 387.7h0.6v0.9h-0.6zM122.2 368.5h1.3v0.9h-1.3zM366.3 201.0h1.6v0.9h-1.6zM371.5 208.9h1.1v0.9h-1.1zM359.7 231.4h1.2v0.9h-1.2zM361.8 194.9h1.0v0.9h-1.0zM358.1 203.1h0.9v0.9h-0.9zM369.1 211.8h1.0v0.9h-1.0zM363.5 229.7h1.0v0.9h-1.0zM361.4 191.1h0.9v0.9h-0.9zM360.0 224.5h1.3v0.9h-1.3zM366.1 211.8h0.8v0.9h-0.8zM362.2 155.4h1.8v0.9h-1.8zM361.7 198.7h1.3v0.9h-1.3zM358.2 209.4h1.7v0.9h-1.7zM370.4 158.1h0.8v0.9h-0.8zM362.8 198.6h0.7v0.9h-0.7zM368.7 217.4h0.9v0.9h-0.9zM368.7 162.0h0.7v0.9h-0.7zM371.4 179.0h1.0v0.9h-1.0zM369.7 170.8h1.6v0.9h-1.6zM367.5 178.4h1.4v0.9h-1.4zM256.1 255.4h1.5v0.9h-1.5zM253.1 256.0h1.6v0.9h-1.6zM261.9 213.6h0.8v0.9h-0.8zM260.0 243.3h1.1v0.9h-1.1zM251.1 249.0h1.7v0.9h-1.7zM254.6 213.2h1.5v0.9h-1.5zM248.5 237.6h1.4v0.9h-1.4zM261.4 209.2h0.8v0.9h-0.8zM260.6 238.3h1.0v0.9h-1.0zM250.4 231.7h1.8v0.9h-1.8zM256.4 246.1h1.7v0.9h-1.7zM259.1 223.2h0.8v0.9h-0.8zM260.2 236.1h1.5v0.9h-1.5zM255.3 218.5h0.6v0.9h-0.6zM244.9 230.5h1.7v0.9h-1.7zM214.9 385.0h0.7v0.9h-0.7zM213.5 376.1h0.8v0.9h-0.8zM206.7 376.5h1.6v0.9h-1.6zM225.1 389.4h0.6v0.9h-0.6zM214.5 387.8h0.6v0.9h-0.6zM216.3 375.6h1.0v0.9h-1.0zM235.4 375.5h1.2v0.9h-1.2zM226.3 391.0h0.8v0.9h-0.8zM235.2 390.9h0.7v0.9h-0.7zM226.4 390.5h1.8v0.9h-1.8z" fill="#fff"/>
<path d="M111.35 200.5h8.3M115.5 196.35v8.3M176.35 206.5h8.3M180.5 202.35v8.3M176.35 220.5h8.3M180.5 216.35v8.3M319.35 210.5h8.3M323.5 206.35v8.3M319.35 223.5h8.3M323.5 219.35v8.3M319.35 228.5h8.3M323.5 224.35v8.3M438.35 141.5h8.3M442.5 137.35v8.3M498.35 184.5h8.3M502.5 180.35v8.3M498.35 197.5h8.3M502.5 193.35v8.3M516.35 162.5h8.3M520.5 158.35v8.3M515.35 168.5h8.3M519.5 164.35v8.3M515.35 170.5h8.3M519.5 166.35v8.3M515.35 120.5h8.3M519.5 116.35v8.3M515.35 122.5h8.3M519.5 118.35v8.3M566.35 178.5h8.3M570.5 174.35v8.3M109.35 420.5h8.3M113.5 416.35v8.3M214.35 407.5h8.3M218.5 403.35v8.3M219.35 392.5h8.3M223.5 388.35v8.3M556.35 412.5h8.3M560.5 408.35v8.3" stroke="#00f" stroke-width="1.39" fill="none"/>
<path d="M108.5 231.2L109.4 233.9L110.1 234.9L110.5 236.1L111.2 237.8L111.8 236.9L112.2 242.3L113.0 247.4L114.0 251.1L114.8 244.9L116.0 239.7L116.9 235.0L118.0 232.8L118.7 229.7L119.3 226.9L119.8 227.7L120.5 228.8L121.0 233.8L121.7 229.0L122.2 227.6L122.8 221.6L123.4 223.8L124.2 231.6L125.0 232.5L125.6 234.8L126.0 237.3L126.8 236.3L127.6 239.5L128.5 235.2L129.3 231.7L130.0 233.0L131.0 232.3L131.9 227.9L132.8 226.8L133.5 225.9L134.3 224.9L134.9 224.0L135.2 221.1L135.9 220.4L136.8 230.3L137.5 228.1L138.0 227.3L138.5 231.4L139.1 232.1L139.9 237.1L140.5 237.8L141.2 241.0L142.0 236.3L143.0 236.5L143.9 245.5L144.8 250.9L145.6 249.3L146.3 244.2L146.8 243.5L147.3 246.8L148.2 246.7L149.0 245.2L149.7 240.8L150.4 245.6L151.0 241.5L151.6 244.5L152.5 240.6L153.0 238.6L154.0 246.2L154.7 243.2L155.4 235.3L156.0 233.6L156.9 227.2L157.7 227.3L158.0 224.7L158.8 230.2L159.8 230.2L160.6 236.3L161.2 234.4L161.5 234.1L162.4 228.9L163.1 225.8L163.5 223.9L164.3 222.0L165.0 215.4L165.5 252.9L166.4 253.7L167.2 254.8L167.8 255.7L168.5 256.4L169.0 257.3L169.6 263.1L170.0 264.9L170.6 255.0L171.5 252.3L172.2 245.3L173.0 253.3L173.5 248.7L174.3 248.3L175.1 250.6L175.5 250.2L176.4 245.7L177.2 244.1L178.1 239.0L179.0 236.6L179.9 234.7L180.7 233.3L181.0 233.9L181.7 225.6L182.2 225.1L183.0 222.3L183.8 218.8L184.8 219.9L185.5 219.4L186.2 219.6L187.2 216.1L187.8 211.1L189.0 211.1L189.8 209.2L190.2 207.6L191.2 211.3L191.5 213.6L192.4 218.9L193.2 219.5L193.5 222.9L194.1 225.5L194.7 226.5L195.5 232.4L196.3 237.6L196.9 240.9L198.0 242.8L198.8 246.2L199.5 245.2L200.5 248.7L201.2 251.2L201.9 252.8L202.2 256.3L202.9 251.5L203.6 247.1L204.0 245.9L204.8 261.5L205.5 274.6L206.1 270.2L206.8 265.7L207.2 265.2L207.9 267.1L208.7 276.9L209.0 277.3L209.8 280.4L210.7 283.8L211.0 285.0L211.7 282.1L212.3 280.5L213.0 272.7L213.9 281.1L214.8 281.2L215.3 280.5L216.0 273.5L216.8 278.1L217.2 277.2L218.0 276.7L219.0 274.0L219.8 269.8L220.6 265.9L221.2 265.0L221.9 266.4L222.2 265.1L223.1 266.3L224.0 265.0L224.8 262.4L225.7 261.0L226.4 259.9L227.2 257.7L227.8 257.9L228.6 259.6L229.8 258.6L230.4 254.3L231.0 255.6L231.8 251.3L232.3 249.0L232.9 255.6L233.5 257.8L234.1 254.1L234.9 258.6L235.5 254.0L236.1 255.8L236.9 260.2L237.2 261.0L238.2 263.7L239.0 266.3L239.8 264.9L240.6 263.9L241.5 266.2L242.2 263.6L242.9 263.0L243.7 267.5L244.3 267.9L244.8 267.8L245.6 278.4L246.0 282.2L246.9 274.3L248.0 267.6L248.8 274.3L249.4 280.4L249.8 277.1L250.4 275.2L251.1 268.2L251.5 265.1L252.2 265.1L253.1 262.5L253.5 261.5L254.1 261.5L254.7 261.8L255.5 254.6L256.0 256.4L256.8 262.0L257.5 265.2L258.4 265.5L259.1 265.4L260.0 262.5L260.7 268.5L261.4 268.2L262.0 270.3L262.5 290.0L263.2 291.5L264.1 293.5L265.0 293.7L265.9 288.9L266.2 287.7L267.1 288.0L267.7 287.1L268.8 289.8L269.7 283.6L270.6 277.4L271.2 274.7L271.9 271.8L272.5 272.2L273.1 271.6L273.8 275.9L274.5 278.9L275.0 279.8L275.8 282.4L276.6 286.1L277.1 289.4L277.5 289.8L278.2 284.8L278.8 285.5L279.5 286.2L280.0 287.7L280.9 291.2L281.5 288.2L282.5 290.9L283.1 293.9L283.8 296.0L284.4 289.8L285.0 282.4L285.7 281.5L286.6 275.7L287.5 267.5L288.3 266.8L289.1 265.2L289.6 266.1L290.0 262.7L290.7 260.3L291.2 257.2L292.1 260.7L292.9 262.1L293.8 267.1L294.6 267.7L295.2 264.4L295.8 265.5L296.2 265.0L296.9 269.2L297.6 270.1L298.0 272.9L298.7 268.1L299.4 268.3L300.0 260.0L300.6 255.1L301.2 251.9L302.1 245.7L302.5 242.3L303.3 240.7L304.2 237.1L305.0 233.7L305.8 235.7L306.4 235.1L307.2 233.3L308.1 234.3L308.8 232.8L309.6 233.4L310.2 231.9L310.9 230.6L311.2 229.7L312.1 227.8L312.9 229.1L313.8 227.7L314.3 225.3L315.0 218.5L315.8 231.3L316.2 236.0L317.2 240.6L318.0 237.8L318.8 239.1L319.3 237.7L320.1 237.7L320.9 238.4L321.2 237.8L321.8 238.8L322.5 244.1L323.3 247.0L324.2 243.3L325.0 248.6L325.8 251.4L326.5 255.6L327.5 256.4L328.1 258.9L328.8 256.9L329.6 258.5L330.0 263.8L330.8 262.8L331.7 262.3L332.5 262.7L333.4 265.3L334.2 270.4L335.0 270.1L335.9 271.5L336.7 271.3L337.5 272.6L338.4 272.6L339.3 277.0L340.0 276.4L340.9 276.4L341.2 279.8L341.9 271.2L342.7 274.1L343.8 262.4L344.4 260.5L345.0 260.3L345.7 260.3L346.2 259.6L346.9 268.3L347.5 272.4L348.3 269.8L348.9 268.2L349.6 268.1L350.0 263.7L350.7 263.5L351.4 262.8L352.5 260.3L353.4 257.4L354.3 258.0L355.5 253.8L356.4 260.4L356.9 260.5L357.5 263.4L358.1 262.7L359.0 266.9L360.0 271.6L360.8 267.5L361.4 261.5L362.5 259.8L363.2 255.5L363.9 254.9L364.2 253.6L365.1 253.3L366.2 257.1L367.1 253.5L367.8 258.9L368.8 260.3L369.3 259.6L370.0 259.0L370.7 262.4L371.2 260.0L372.2 264.4L373.1 269.3L373.8 272.3L374.7 262.5L375.3 268.3L376.2 266.6L377.1 266.8L377.6 270.7L378.4 266.5L378.8 267.6L379.5 268.4L380.4 265.3L381.2 269.0L382.0 271.3L382.6 262.2L383.2 264.9L383.8 264.6L384.4 261.0L385.3 263.0L386.2 262.9L387.1 259.9L387.8 264.3L388.8 261.2L389.5 264.1L390.4 261.9L391.2 263.6L392.1 260.5L393.0 259.5L393.8 257.5L394.5 259.6L395.0 260.8L395.7 253.4L396.2 256.2L396.8 254.7L397.5 254.0L398.0 254.0L398.6 255.0L399.3 263.9L400.0 264.8L400.8 262.7L401.5 264.9L402.0 258.4L403.0 270.3L403.9 281.2L404.5 290.3L405.1 294.2L406.2 297.2L407.0 302.4L407.8 302.5L408.8 303.7L409.4 297.3L410.3 297.9L411.2 294.9L412.2 291.5L412.8 291.8L413.8 288.4L414.3 291.4L415.1 287.6L415.7 289.1L416.2 286.5L417.1 286.1L417.7 283.9L418.8 283.5L419.3 282.4L420.3 281.2L421.2 278.7L421.9 274.7L422.6 272.4L423.8 273.9L424.6 270.8L425.4 270.5L426.2 271.1L426.9 266.4L427.5 268.0L428.1 268.3L428.8 268.5L429.5 269.4L430.3 267.9L431.2 271.3L432.0 271.3L432.6 267.5L433.3 268.6L433.8 269.1L434.7 266.3L435.5 266.7L436.2 266.1L437.2 262.7L437.8 263.8L438.4 265.8L438.8 265.4L439.4 258.8L440.0 255.9L440.7 260.5L441.5 260.2L442.5 263.4L443.2 262.7L443.8 267.6L444.5 263.0L445.3 264.4L446.2 254.8L447.0 251.9L447.6 252.9L448.0 250.3L448.6 255.3L449.4 256.2L450.0 257.3L450.9 253.6L451.7 255.5L452.5 256.4L453.3 261.5L453.9 257.6L455.0 261.4L455.8 264.3L456.6 260.8L457.5 264.9L458.2 266.0L458.8 268.9L459.6 271.2L460.4 274.8L461.2 277.4L462.1 275.8L462.9 283.4L463.8 281.1L464.4 285.4L465.3 276.1L466.2 278.6L467.0 277.9L467.9 283.8L468.8 282.3L469.6 279.2L470.5 282.9L471.2 284.1L472.0 283.4L472.8 282.2L473.8 279.6L474.6 285.3L475.8 289.8L476.5 290.2L477.4 292.0L478.2 289.5L478.8 291.5L479.7 291.8L480.4 289.7L481.2 288.4L482.2 289.6L482.9 285.4L483.8 285.1L484.7 283.8L485.5 279.5L486.2 281.0L487.1 283.5L487.9 272.0L488.8 275.3L489.5 274.1L490.2 271.5L491.2 266.5L492.2 268.2L493.0 264.6L493.8 263.9L494.6 262.8L495.2 266.4L495.7 258.6L496.2 260.4L497.1 262.6L497.7 260.9L498.4 264.4L498.8 266.2L499.5 277.2L500.0 278.4L500.6 281.4L501.2 286.3L501.9 279.4L502.6 283.1L503.8 280.9L504.3 279.0L505.1 276.5L505.9 275.6L506.2 273.9L507.0 270.3L507.8 270.9L508.4 269.1L508.8 271.3L509.6 267.7L510.0 265.1L510.9 269.8L511.7 269.9L512.5 268.4L513.1 273.0L514.0 276.5L514.5 277.3L515.2 274.1L515.9 268.7L516.2 268.4L516.8 267.6L517.6 268.2L518.3 266.2L518.8 267.8L519.5 269.6L520.4 273.5L521.2 270.9L521.8 270.5L522.4 267.4L523.3 270.4L523.8 269.8L524.4 269.6L525.0 271.6L525.6 266.8L526.2 271.0L526.9 273.1L527.6 267.5L528.4 267.0L528.8 266.5L529.3 262.3L530.1 264.1L530.8 267.6L531.2 264.6L532.1 263.0L532.7 263.4L533.3 264.1L533.8 258.6L534.3 256.2L534.9 250.2L535.5 248.7L536.2 243.5L537.2 248.9L538.0 248.0L538.8 251.4L539.4 253.9L540.2 252.6L540.9 264.0L541.2 261.3L541.9 264.6L542.8 260.0L543.8 260.4L544.3 262.4L545.2 258.8L546.2 261.4L546.9 261.9L547.4 269.2L548.0 270.2L548.8 266.1L549.3 264.1L550.0 257.6L550.8 254.6L551.7 250.5L552.5 243.6L553.2 239.5L554.0 240.1L554.5 235.3L555.2 237.7L555.9 229.5L556.2 227.2L556.9 232.3L557.6 231.6L558.0 234.7L558.6 238.5L559.4 236.2L560.1 236.6L560.7 235.0L561.2 239.8L561.8 242.0L562.6 245.1L563.3 245.8L563.8 246.6L564.4 243.2L565.1 242.4L566.2 239.9L566.9 237.1L567.8 234.7L568.4 238.2L568.8 237.6L569.7 228.3L570.5 230.6L571.2 226.1L571.8 225.3L572.4 225.6L573.0 227.5L573.7 226.2L574.3 220.1L575.0 220.0L575.9 216.4L576.8 213.8L577.5 212.3L578.2 207.7L578.9 202.3L579.2 200.0L579.9 207.0L580.5 212.9L581.2 244.9L581.8 239.4L582.6 233.9L583.0 229.9L583.6 230.9L584.5 238.9L585.0 241.0L585.9 241.7L586.5 242.4L587.0 243.4L587.8 246.8L588.8 253.9L589.6 255.3L590.5 254.3L591.2 257.6L592.1 257.3L593.0 262.2L593.7 271.8L594.5 289.6L595.4 295.5L596.2 295.1L597.1 296.6L597.9 293.6L598.8 292.8L599.4 294.8L600.1 288.0L600.5 287.5" stroke="#0f0" stroke-width="1.7" fill="none" stroke-linejoin="miter"/>
</g>
<rect x="84.5" y="37.5" width="541" height="384.9" fill="none" stroke="#000" stroke-width="1.1"/>
<path d="M124.5 422.4v4.9M228.75 422.4v4.9M333 422.4v4.9M437.25 422.4v4.9M541.5 422.4v4.9M84.5 422.4h-4.9M84.5 358.75h-4.9M84.5 295.1h-4.9M84.5 231.45h-4.9M84.5 167.8h-4.9M84.5 104.15h-4.9M84.5 40.5h-4.9" stroke="#000" stroke-width="1.1" fill="none"/>
<g font-family="'DejaVu Sans', 'Liberation Sans', sans-serif" fill="#000">
<g font-size="13.89px" text-anchor="middle">
<text x="124.9" y="441.7" textLength="51.2" lengthAdjust="spacingAndGlyphs">420000</text>
<text x="229.15" y="441.7" textLength="51.2" lengthAdjust="spacingAndGlyphs">440000</text>
<text x="333.4" y="441.7" textLength="51.2" lengthAdjust="spacingAndGlyphs">460000</text>
<text x="437.65" y="441.7" textLength="51.2" lengthAdjust="spacingAndGlyphs">480000</text>
<text x="541.9" y="441.7" textLength="51.2" lengthAdjust="spacingAndGlyphs">500000</text>
<text x="354.4" y="463" textLength="71.9">Time (sec)</text>
</g><g font-size="13.89px" text-anchor="end">
<text x="74.7" y="427" textLength="38.85" lengthAdjust="spacingAndGlyphs">0.000</text>
<text x="73.8" y="363.35" textLength="38.85" lengthAdjust="spacingAndGlyphs">0.005</text>
<text x="74.7" y="299.7" textLength="38.85" lengthAdjust="spacingAndGlyphs">0.010</text>
<text x="73.8" y="236.05" textLength="38.85" lengthAdjust="spacingAndGlyphs">0.015</text>
<text x="74.7" y="172.4" textLength="38.85" lengthAdjust="spacingAndGlyphs">0.020</text>
<text x="73.8" y="108.75" textLength="38.85" lengthAdjust="spacingAndGlyphs">0.025</text>
<text x="74.7" y="45.1" textLength="38.85" lengthAdjust="spacingAndGlyphs">0.030</text>
</g>
<text font-size="13.89px" text-anchor="middle" transform="translate(25.7 231.2) rotate(-90)">Horizontal Distance From Mean (m)</text>
<text font-size="16.67px" text-anchor="middle" x="354.8" y="29" textLength="427.3">P4-05-all antenna 0 Horizontal Distance From Mean</text>
</g></svg></body></html>
